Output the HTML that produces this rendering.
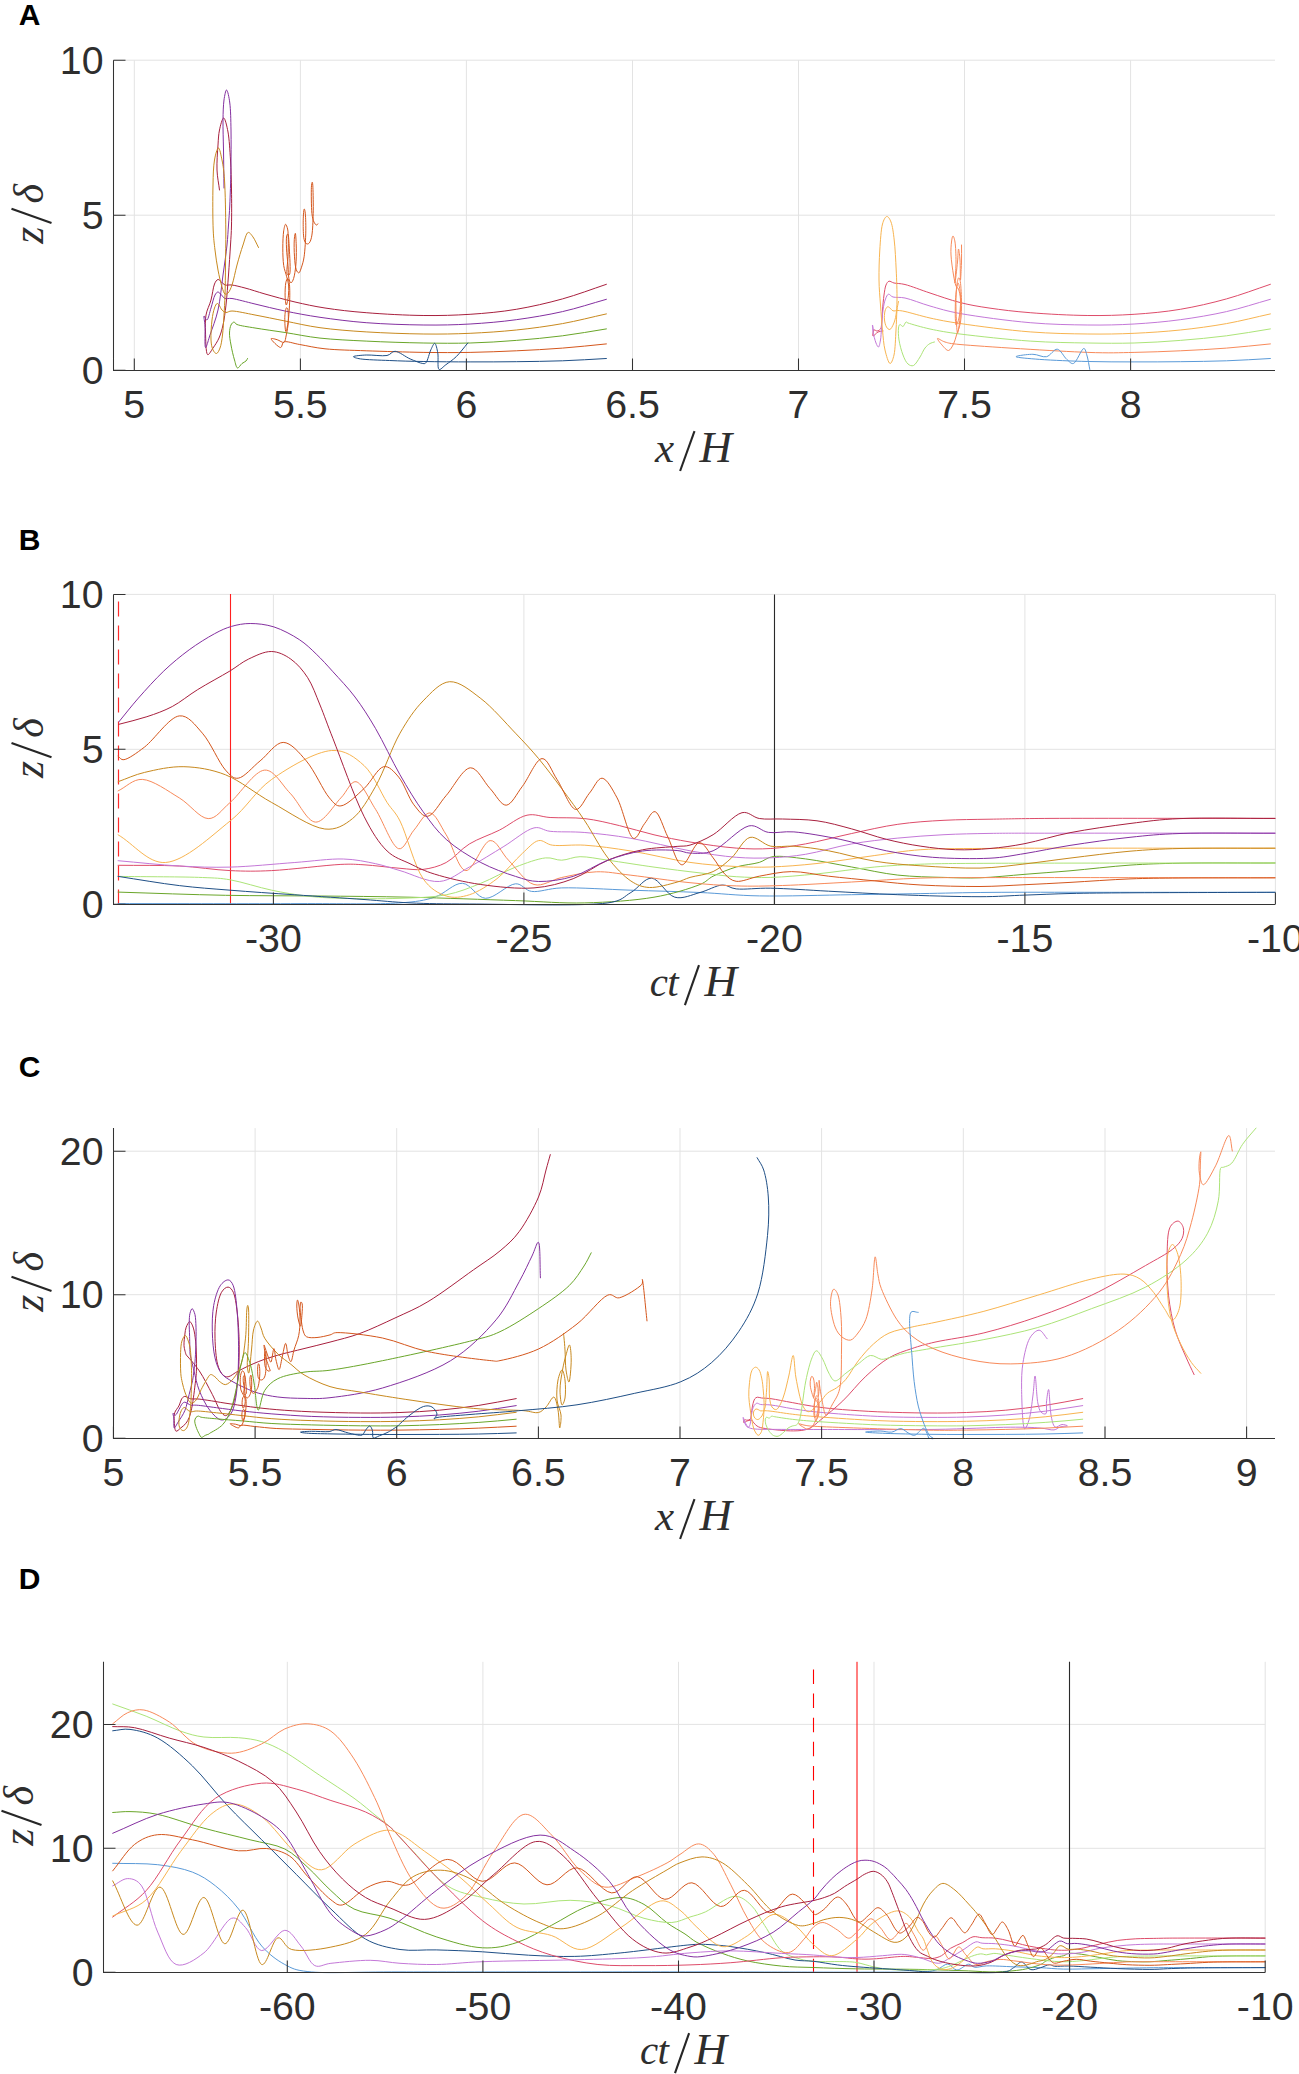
<!DOCTYPE html><html><head><meta charset="utf-8"><style>html,body{margin:0;padding:0;background:#fff;overflow:hidden;width:1299px;height:2074px;}svg{display:block}.t{font-family:"Liberation Sans",sans-serif;font-size:39.3px;fill:#2e2e2e}.pl{font-family:"Liberation Sans",sans-serif;font-weight:bold;font-size:30px;fill:#000}.m{font-family:"Liberation Serif",serif;font-style:italic;font-size:41px;fill:#2e2e2e}</style></head><body>
<svg width="1299" height="2074" viewBox="0 0 1299 2074">
<rect width="1299" height="2074" fill="#fff"/>
<path d="M134.3 60.2V370.5M300.4 60.2V370.5M466.4 60.2V370.5M632.5 60.2V370.5M798.5 60.2V370.5M964.5 60.2V370.5M1130.6 60.2V370.5M113.5 215.2H1275.0M113.5 60.2H1275.0" stroke="#e3e3e3" stroke-width="1.0" fill="none"/>
<path d="M606.4 284.3C591.8 289.2 577.5 294.7 562.5 298.9C547.4 303.1 531.7 306.7 516.3 309.3C500.9 311.9 485.5 313.3 470.1 314.3C454.7 315.3 440.6 315.7 423.9 315.5C406.1 315.3 383.3 314.1 366.2 312.7C350.7 311.5 337.3 309.9 325.0 308.0C313.8 306.3 305.0 304.3 295.0 302.0C285.0 299.7 273.7 296.4 265.0 294.0C257.3 291.8 250.8 289.5 245.0 288.0C240.0 286.7 235.5 285.5 232.0 285.0C229.1 284.6 226.8 285.6 225.0 285.0C223.4 284.5 222.7 282.9 221.5 282.0C220.3 281.1 219.1 279.3 218.0 279.5C216.8 279.7 215.5 281.5 214.5 284.0C213.1 287.4 212.4 294.8 211.0 300.0C209.6 305.1 206.9 309.7 206.0 315.0C205.1 320.4 205.3 325.7 205.5 332.0C205.7 338.8 205.8 353.0 207.5 354.5C208.8 355.7 211.2 350.6 213.0 348.0C215.0 345.2 217.4 341.7 219.0 338.0C220.7 334.1 221.9 330.1 223.0 325.0C224.3 319.3 225.1 312.7 226.0 305.0C227.0 296.3 227.7 285.0 228.5 275.0C229.2 265.0 230.0 253.7 230.5 245.0C231.0 237.3 231.3 233.1 231.5 225.0C231.7 215.4 231.7 201.1 231.5 190.0C231.3 179.4 231.1 169.8 230.5 160.0C229.9 150.4 229.3 139.3 228.0 132.0C226.9 126.0 225.1 118.2 223.7 118.0C222.3 117.9 220.4 125.6 219.5 130.0C218.5 134.6 218.4 139.0 218.0 145.0C217.5 152.0 216.7 162.3 217.0 170.0C217.3 177.2 218.7 183.3 219.5 190.0" stroke="#a8203e" stroke-width="1.00" fill="none" stroke-linejoin="round" stroke-linecap="round"/><path d="M606.4 299.3C591.8 303.4 577.4 308.2 562.5 311.6C547.4 315.0 531.7 317.6 516.3 319.7C500.9 321.8 485.5 323.1 470.1 324.0C454.7 324.9 440.6 325.2 423.9 325.0C406.1 324.8 384.0 324.1 366.2 322.7C349.5 321.4 334.0 319.3 320.0 317.3C307.1 315.4 296.0 313.3 285.0 311.0C274.4 308.8 264.1 306.2 255.0 304.0C246.6 302.0 237.1 299.3 232.0 298.5C228.4 298.0 226.8 299.2 225.0 298.5C223.4 297.9 222.7 296.1 221.5 295.0C220.3 293.9 219.1 292.0 218.0 292.0C216.9 292.0 216.0 293.2 215.0 295.0C213.6 297.6 212.3 303.8 211.0 308.0C209.7 312.1 208.3 319.3 207.0 320.0C206.0 320.5 204.4 315.5 204.0 316.0C203.5 316.6 204.8 321.6 205.0 326.0C205.3 331.5 204.5 346.8 205.5 347.5C206.4 348.1 208.2 340.3 210.0 335.0C212.2 328.4 215.9 319.4 218.0 310.0C220.3 299.7 221.5 286.1 223.0 275.0C224.5 264.4 226.1 253.7 227.0 245.0C227.8 237.3 228.0 231.7 228.5 225.0C229.0 218.3 229.4 213.1 229.8 205.0C230.2 195.4 230.7 182.2 230.9 170.0C231.1 157.3 231.2 141.6 231.0 130.0C230.8 119.7 230.7 110.0 229.8 103.0C229.1 97.3 227.6 90.2 226.6 90.0C225.7 89.8 224.6 95.7 224.0 100.0C223.3 105.2 223.1 112.3 223.0 120.0C222.9 128.7 223.3 139.1 223.5 150.0C223.7 161.7 223.8 175.3 224.0 188.0" stroke="#8430a0" stroke-width="1.00" fill="none" stroke-linejoin="round" stroke-linecap="round"/><path d="M606.4 313.9C591.8 317.1 577.4 320.9 562.5 323.6C547.4 326.3 531.7 328.4 516.3 330.0C500.9 331.6 485.5 332.6 470.1 333.3C454.7 334.0 440.6 334.2 423.9 334.0C406.1 333.8 384.0 333.0 366.2 331.9C349.5 330.9 334.0 329.6 320.0 327.7C307.1 325.9 296.1 323.2 285.0 321.0C274.4 318.9 264.1 316.7 255.0 315.0C246.6 313.4 236.9 311.1 232.0 311.0C228.7 310.9 227.7 312.7 226.0 312.5C224.4 312.3 223.1 311.2 222.0 310.0C220.8 308.7 219.9 306.1 219.0 305.0C218.3 304.2 217.7 303.2 217.0 303.5C216.2 303.8 215.3 305.8 214.5 308.0C213.5 310.8 212.6 315.2 212.0 320.0C211.3 325.6 210.7 334.8 211.0 340.0C211.2 344.3 211.9 347.7 213.0 350.0C213.9 351.8 215.4 353.7 216.5 353.5C217.7 353.3 219.1 350.6 220.0 348.0C221.2 344.8 221.9 340.1 222.5 335.0C223.2 329.3 223.6 321.7 224.0 315.0C224.4 308.3 224.8 302.7 225.0 295.0C225.3 286.3 225.4 275.6 225.5 265.0C225.6 253.9 225.9 243.2 225.8 230.0C225.7 215.3 225.3 192.2 224.5 180.0C223.9 170.7 223.1 165.6 222.0 160.0C221.0 155.2 219.7 148.0 218.5 148.0C217.2 148.0 215.4 154.7 214.5 160.0C213.4 166.4 213.2 174.7 213.0 185.0C212.7 197.2 212.7 218.6 213.2 230.0C213.6 238.9 214.2 243.3 215.0 250.0C215.8 256.7 216.8 263.7 218.0 270.0C219.1 276.0 220.7 282.8 222.0 287.0C223.0 290.2 223.8 293.2 225.0 294.0C225.9 294.6 227.0 294.0 228.0 293.0C229.4 291.6 230.7 288.8 232.0 285.0C233.7 280.2 235.2 271.7 237.0 265.0C238.8 258.3 241.1 250.6 243.0 245.0C244.7 240.0 246.1 233.3 248.0 232.5C249.5 231.8 251.4 234.8 253.0 237.0C254.9 239.6 256.7 244.0 258.5 247.5" stroke="#c8891e" stroke-width="1.00" fill="none" stroke-linejoin="round" stroke-linecap="round"/><path d="M606.4 328.9C591.8 331.2 577.4 333.9 562.5 335.8C547.4 337.7 531.7 339.2 516.3 340.4C500.9 341.6 485.5 342.6 470.1 343.0C454.7 343.4 440.6 343.3 423.9 343.0C406.1 342.7 384.0 342.0 366.2 341.1C349.5 340.3 334.0 339.6 320.0 338.1C307.1 336.7 296.1 334.2 285.0 332.5C274.4 330.9 263.4 329.4 255.0 328.0C247.8 326.8 240.3 325.8 237.0 324.5C234.9 323.7 235.0 321.9 234.0 322.0C233.0 322.1 231.7 323.5 231.0 325.0C230.1 326.9 229.6 329.9 229.5 333.0C229.4 336.5 230.2 340.7 231.0 345.0C231.8 349.6 233.3 356.0 234.5 360.0C235.5 363.4 236.2 367.6 237.5 368.0C238.7 368.4 240.5 364.7 242.0 363.5C243.4 362.4 245.1 361.9 246.0 361.0C246.8 360.2 247.0 359.3 247.5 358.5" stroke="#6aa62a" stroke-width="1.00" fill="none" stroke-linejoin="round" stroke-linecap="round"/><path d="M606.4 343.9C591.8 345.3 577.4 347.0 562.5 348.1C547.4 349.3 531.7 350.1 516.3 350.8C500.9 351.5 485.5 352.1 470.1 352.4C454.7 352.7 440.6 352.6 423.9 352.4C406.1 352.1 383.3 351.4 366.2 350.8C350.7 350.2 336.6 350.0 325.0 348.8C315.0 347.8 306.8 345.7 299.7 344.5C293.5 343.5 287.2 340.9 284.1 341.9C281.7 342.7 282.4 347.5 280.6 347.5C278.4 347.4 271.1 339.9 271.1 338.8C271.1 337.9 275.1 339.1 277.2 339.7C279.4 340.3 282.5 343.1 284.0 342.3C285.5 341.5 285.6 337.9 286.3 334.9C287.1 331.3 288.1 326.2 288.3 321.9C288.5 317.6 288.3 310.8 287.7 308.9C287.4 307.9 286.7 307.5 286.3 308.0C285.6 308.9 284.9 313.9 284.8 317.6C284.7 321.7 285.2 331.1 285.8 331.5C286.3 331.9 287.4 326.9 288.0 322.8C288.8 317.4 289.5 307.1 289.7 300.2C289.9 293.8 289.8 286.4 289.3 282.8C288.9 280.4 288.3 278.5 287.7 278.5C287.1 278.5 286.2 280.6 285.8 282.8C285.2 285.8 285.0 292.1 285.1 295.9C285.2 299.4 285.8 305.0 286.3 305.0C286.9 305.0 288.0 299.1 288.4 295.9C288.8 292.5 288.9 288.3 288.6 285.0C288.3 282.0 287.5 279.9 286.7 276.8C285.9 273.4 284.4 269.9 283.7 265.5C283.0 260.5 282.8 253.9 282.8 248.1C282.8 242.3 283.1 234.9 283.7 230.8C284.2 227.7 284.9 224.4 285.6 224.3C286.2 224.2 287.1 226.9 287.6 229.0C288.2 231.6 288.2 235.2 288.3 239.4C288.4 244.3 288.2 251.0 288.0 256.8C287.8 262.6 286.2 272.1 287.1 274.2C287.6 275.4 289.1 275.7 289.7 274.2C290.8 271.3 289.6 255.1 289.3 248.1C289.0 242.3 288.6 235.2 288.0 234.2C287.6 233.6 287.0 234.7 286.7 236.0C286.2 238.1 286.3 243.5 286.5 248.1C286.7 253.2 287.6 260.3 288.0 265.5C288.4 270.3 288.2 275.5 288.9 278.5C289.4 280.7 290.2 282.8 291.0 282.8C291.8 282.8 292.9 280.7 293.6 278.5C294.6 275.5 295.3 270.3 295.8 265.5C296.3 260.3 296.4 253.6 296.3 248.1C296.2 242.9 295.8 234.1 295.4 233.4C295.1 232.9 294.5 236.5 294.3 239.4C294.0 243.4 294.1 251.6 294.5 256.8C294.8 261.6 295.3 267.1 296.3 269.8C297.0 271.7 298.1 273.1 298.9 272.9C299.8 272.6 300.7 269.6 301.5 267.2C302.4 264.4 303.4 261.6 304.1 256.8C305.0 250.5 305.7 238.6 305.8 230.8C305.9 223.7 305.6 215.0 305.1 211.7C304.8 209.9 304.4 208.6 304.1 209.1C303.7 209.9 303.2 217.3 303.2 222.1C303.2 227.3 303.2 235.8 304.1 239.4C304.7 241.9 305.7 243.3 306.7 243.8C307.5 244.2 308.5 243.9 309.3 242.9C310.4 241.6 311.3 238.9 311.9 235.1C312.7 230.0 313.0 221.1 313.2 213.4C313.4 205.3 313.1 192.4 312.9 187.4C312.8 184.3 312.5 182.2 312.3 182.2C312.0 182.2 311.5 184.3 311.4 187.4C311.2 192.4 311.3 207.4 311.9 213.4C312.4 217.7 313.1 220.1 314.0 222.1C314.7 223.7 315.9 225.0 316.6 225.1C317.1 225.2 317.4 224.2 317.8 223.8" stroke="#d4561c" stroke-width="1.00" fill="none" stroke-linejoin="round" stroke-linecap="round"/><path d="M606.4 358.5C591.8 359.3 577.4 360.3 562.5 360.8C547.4 361.3 531.7 361.5 516.3 361.7C500.9 361.9 485.5 361.9 470.1 361.9C454.7 361.9 437.8 361.8 423.9 361.5C411.1 361.3 400.1 361.0 389.3 360.5C379.0 360.1 366.3 359.8 360.4 358.9C356.5 358.3 353.1 357.2 353.5 356.6C354.0 355.9 361.2 355.2 366.2 355.0C372.0 354.7 382.0 356.4 387.0 355.5C390.9 354.8 391.7 351.1 395.1 351.3C399.1 351.5 405.3 356.8 410.1 358.9C414.6 360.8 420.1 363.2 422.8 363.5C424.6 363.7 425.1 363.8 426.2 362.4C427.8 360.4 429.3 353.0 430.9 349.7C432.2 346.9 433.7 343.1 434.8 343.4C436.0 343.7 437.1 349.2 437.8 353.1C438.6 357.6 437.2 367.9 438.9 369.3C440.3 370.5 443.2 366.6 445.9 364.7C448.9 362.5 452.8 360.0 456.3 356.6C460.1 352.9 464.0 347.5 467.8 343.0" stroke="#1f4f86" stroke-width="1.00" fill="none" stroke-linejoin="round" stroke-linecap="round"/><path d="M1270.4 284.3C1255.8 289.2 1241.5 294.7 1226.5 298.9C1211.4 303.1 1195.7 306.7 1180.3 309.3C1164.9 311.9 1149.5 313.3 1134.1 314.3C1118.7 315.3 1104.6 315.7 1087.9 315.5C1070.1 315.3 1047.3 314.1 1030.2 312.7C1014.7 311.5 1001.1 309.8 989.0 308.0C978.0 306.4 969.7 305.0 960.0 302.5C950.1 300.0 939.4 296.1 930.0 293.0C921.1 290.1 911.3 286.1 905.0 284.5C900.1 283.3 896.8 283.6 894.0 283.0C891.8 282.5 890.3 280.8 889.0 281.2C887.7 281.6 886.8 283.1 886.0 285.0C885.0 287.4 884.6 291.1 884.0 295.0C883.4 299.3 882.9 305.0 882.5 310.0C882.1 315.0 881.9 321.8 881.5 325.0C881.2 327.2 881.3 328.0 880.5 329.0C879.7 330.0 878.1 330.9 877.0 331.0C876.0 331.1 874.7 329.4 874.0 330.0C873.2 330.7 872.4 335.6 873.0 336.0C873.7 336.4 876.3 332.8 878.0 332.0C879.6 331.2 881.3 331.3 883.0 331.0" stroke="#de4c6a" stroke-width="1.00" fill="none" stroke-linejoin="round" stroke-linecap="round"/><path d="M1270.4 299.3C1255.8 303.4 1241.4 308.2 1226.5 311.6C1211.4 315.0 1195.7 317.6 1180.3 319.7C1164.9 321.8 1149.5 323.1 1134.1 324.0C1118.7 324.9 1104.6 325.2 1087.9 325.0C1070.1 324.8 1050.8 324.5 1030.2 322.7C1008.3 320.8 977.5 316.6 960.0 313.5C946.4 311.0 939.4 308.7 930.0 306.0C921.1 303.5 911.5 299.4 905.0 298.0C899.9 296.9 895.8 297.8 893.0 297.0C890.8 296.4 889.7 293.9 888.5 294.2C887.2 294.5 886.4 296.8 885.5 299.0C884.4 301.7 883.6 305.6 883.0 310.0C882.3 315.0 881.9 322.8 881.5 328.0C881.1 332.6 881.1 336.7 880.5 340.0C880.0 342.8 879.3 346.7 878.5 347.0C877.8 347.2 876.8 345.0 876.0 343.0C875.0 340.4 873.6 335.1 873.0 332.0C872.5 329.3 872.4 325.1 872.5 325.0C872.6 324.9 873.2 328.3 873.5 330.0" stroke="#c478d8" stroke-width="1.00" fill="none" stroke-linejoin="round" stroke-linecap="round"/><path d="M1270.4 313.9C1255.8 317.1 1241.4 320.9 1226.5 323.6C1211.4 326.3 1195.7 328.4 1180.3 330.0C1164.9 331.6 1149.5 332.6 1134.1 333.3C1118.7 334.0 1104.6 334.2 1087.9 334.0C1070.1 333.8 1050.8 333.5 1030.2 331.9C1008.3 330.2 977.5 326.1 960.0 323.5C946.4 321.5 939.4 320.1 930.0 318.0C921.1 316.0 910.4 312.7 905.0 311.5C901.3 310.7 900.1 310.6 898.0 310.5C896.1 310.4 894.4 311.3 893.0 310.8C891.7 310.4 891.0 308.7 890.0 308.0C889.1 307.4 888.3 306.5 887.5 306.8C886.6 307.2 885.5 309.1 885.0 311.0C884.4 313.3 884.2 317.3 884.5 320.0C884.8 322.6 885.5 325.4 886.5 327.0C887.4 328.4 888.7 329.8 889.8 329.5C891.1 329.2 892.5 326.2 893.5 324.0C894.6 321.5 895.4 318.6 896.0 315.0C896.7 310.8 896.9 306.4 897.0 300.0C897.1 292.1 896.7 280.0 896.2 270.0C895.7 260.0 895.2 248.4 894.2 240.0C893.4 232.8 892.5 226.0 891.0 222.0C889.9 219.0 888.2 216.3 886.8 216.5C885.3 216.7 883.6 219.9 882.5 224.0C881.0 229.6 880.4 240.9 879.8 250.0C879.2 259.5 878.9 270.6 879.0 280.0C879.1 288.9 879.9 296.7 880.5 305.0C881.1 313.3 881.7 322.3 882.5 330.0C883.2 337.2 883.6 344.2 885.0 350.0C886.2 355.2 888.4 363.1 890.0 363.5C891.4 363.8 893.0 359.3 894.0 355.0C895.3 349.3 895.5 337.7 896.0 330.0C896.5 322.8 896.5 315.0 897.0 310.0C897.4 306.1 898.0 304.3 898.5 301.5" stroke="#f8b450" stroke-width="1.00" fill="none" stroke-linejoin="round" stroke-linecap="round"/><path d="M1270.4 328.9C1255.8 331.2 1241.4 333.9 1226.5 335.8C1211.4 337.7 1195.7 339.2 1180.3 340.4C1164.9 341.6 1149.5 342.6 1134.1 343.0C1118.7 343.4 1104.6 343.3 1087.9 343.0C1070.1 342.7 1050.8 342.5 1030.2 341.1C1008.3 339.6 977.5 336.2 960.0 334.0C946.4 332.3 939.0 330.9 930.0 329.0C921.8 327.2 911.3 324.1 908.0 323.0C906.3 322.4 906.7 321.7 906.0 322.0C905.1 322.4 904.1 326.2 903.0 326.5C902.1 326.8 900.7 324.3 900.0 324.5C899.2 324.7 898.7 326.1 898.5 328.0C898.2 330.6 898.3 335.7 899.0 340.0C899.7 344.6 901.4 350.9 903.0 355.0C904.4 358.7 906.0 362.3 908.0 364.0C909.6 365.4 911.7 366.3 913.5 365.5C915.7 364.5 918.1 359.9 920.0 357.0C921.9 354.1 923.2 350.3 925.0 348.0C926.6 346.0 928.3 344.5 930.0 343.5C931.5 342.6 933.0 342.5 934.5 342.0" stroke="#ace478" stroke-width="1.00" fill="none" stroke-linejoin="round" stroke-linecap="round"/><path d="M1270.4 343.9C1255.8 345.3 1241.4 347.0 1226.5 348.1C1211.4 349.3 1195.7 350.1 1180.3 350.8C1164.9 351.5 1149.5 352.1 1134.1 352.4C1118.7 352.7 1110.1 353.2 1087.9 352.4C1057.8 351.3 980.9 346.4 960.0 344.5C949.0 343.5 948.9 343.1 945.0 342.0C941.7 341.0 938.0 338.0 937.5 338.5C937.0 339.0 940.2 343.0 942.0 345.0C943.8 347.0 946.6 350.7 948.5 350.5C950.4 350.3 952.2 346.5 953.5 344.0C954.9 341.4 955.4 338.4 956.5 335.0C957.7 331.2 959.7 327.3 960.5 322.0C961.5 315.9 961.6 307.1 961.5 300.0C961.4 293.1 960.8 283.1 960.0 280.0C959.6 278.3 959.0 277.5 958.5 278.0C957.8 278.7 956.9 283.6 956.5 288.0C956.0 293.6 955.8 302.6 956.0 310.0C956.2 317.6 956.8 332.4 957.5 333.0C958.1 333.5 959.5 323.8 960.0 318.0C960.6 311.4 961.0 301.1 960.5 295.0C960.1 289.9 958.8 282.7 958.0 283.0C957.1 283.4 955.9 293.5 955.5 300.0C955.1 307.3 955.1 323.5 956.0 325.0C956.6 326.0 958.3 321.3 959.0 318.0C959.9 313.7 960.7 305.1 960.5 300.0C960.3 295.6 959.4 291.3 958.5 289.0C957.8 287.3 956.7 287.7 956.0 286.0C955.0 283.7 954.3 279.5 953.5 275.0C952.6 269.6 951.3 260.7 951.0 255.0C950.7 250.0 951.1 245.3 951.5 242.0C951.8 239.3 952.4 236.0 953.0 236.0C953.6 236.0 954.5 238.9 955.0 242.0C955.7 246.4 956.0 255.2 956.0 262.0C956.0 268.9 954.8 283.0 955.0 283.0C955.2 283.0 956.9 267.9 957.5 262.0C958.0 256.9 958.1 249.1 958.5 249.0C958.9 248.9 959.7 255.5 960.0 260.0C960.4 265.4 960.2 279.9 960.5 280.0C960.7 280.1 961.3 267.9 961.5 262.0C961.7 256.2 961.5 250.7 961.5 245.0" stroke="#f88a5a" stroke-width="1.00" fill="none" stroke-linejoin="round" stroke-linecap="round"/><path d="M1270.4 358.5C1255.8 359.3 1241.4 360.3 1226.5 360.8C1211.4 361.3 1195.7 361.5 1180.3 361.7C1164.9 361.9 1149.5 361.9 1134.1 361.9C1118.7 361.9 1103.5 361.9 1087.9 361.5C1072.1 361.1 1052.3 360.3 1039.7 359.4C1029.5 358.6 1016.5 357.6 1016.0 356.7C1015.6 355.9 1027.7 354.2 1032.9 354.3C1037.8 354.3 1042.4 357.6 1046.5 356.7C1050.5 355.8 1053.9 348.8 1057.3 349.2C1060.7 349.6 1063.9 357.0 1066.8 359.4C1069.3 361.4 1071.2 364.4 1073.6 363.4C1076.7 362.2 1081.4 348.9 1083.7 348.5C1085.5 348.2 1086.1 352.9 1087.1 356.0C1088.2 359.6 1088.9 365.0 1089.8 369.5" stroke="#5a9ad8" stroke-width="1.00" fill="none" stroke-linejoin="round" stroke-linecap="round"/>
<path d="M113.5 60.2V370.5H1275.0M134.3 370.5V358.5M300.4 370.5V358.5M466.4 370.5V358.5M632.5 370.5V358.5M798.5 370.5V358.5M964.5 370.5V358.5M1130.6 370.5V358.5M113.5 370.3H125.5M113.5 215.2H125.5M113.5 60.2H125.5" stroke="#333" stroke-width="1.05" fill="none"/>
<text class="t" x="134.3" y="417.6" text-anchor="middle">5</text>
<text class="t" x="300.4" y="417.6" text-anchor="middle">5.5</text>
<text class="t" x="466.4" y="417.6" text-anchor="middle">6</text>
<text class="t" x="632.5" y="417.6" text-anchor="middle">6.5</text>
<text class="t" x="798.5" y="417.6" text-anchor="middle">7</text>
<text class="t" x="964.5" y="417.6" text-anchor="middle">7.5</text>
<text class="t" x="1130.6" y="417.6" text-anchor="middle">8</text>
<text class="t" x="103.5" y="383.9" text-anchor="end">0</text>
<text class="t" x="103.5" y="228.8" text-anchor="end">5</text>
<text class="t" x="103.5" y="73.8" text-anchor="end">10</text>
<text class="pl" x="18.8" y="24.6">A</text>
<text class="m" style="font-size:43px" x="655.0" y="462.3">x</text><path d="M680.1 471.0L694.5 431.1" stroke="#262626" stroke-width="2.1" stroke-linecap="butt"/><text class="m" style="font-size:45px" x="699.4" y="462.3">H</text>
<g transform="translate(42.5 215.3) rotate(-90)"><text class="m" style="font-size:44px" x="-28.5" y="0">z</text><path d="M-7.8 9.0L6.5 -31.0" stroke="#262626" stroke-width="2.1" stroke-linecap="butt"/><text class="m" style="font-size:42px" x="11.7" y="0">δ</text></g>
<path d="M273.4 594.4V904.5M523.9 594.4V904.5M774.4 594.4V904.5M1024.9 594.4V904.5M1275.4 594.4V904.5M113.5 749.3H1275.0M113.5 594.4H1275.0" stroke="#e3e3e3" stroke-width="1.0" fill="none"/>
<path d="M118.5 601.5V904.3" stroke="#ff2a2a" stroke-width="1.2" stroke-dasharray="15 9" fill="none"/><path d="M230.5 594V904.3" stroke="#ff2020" stroke-width="1.1" fill="none"/><path d="M774.5 594.4V904.3" stroke="#2a2a2a" stroke-width="1.1" fill="none"/><path d="M118.1 903.6C178.7 903.6 250.7 903.8 300.0 903.6C341.2 903.5 376.8 904.5 400.0 902.9C416.9 901.7 424.0 900.6 434.6 897.2C444.8 893.9 453.8 882.9 462.4 883.3C470.7 883.7 477.0 897.9 485.5 898.3C494.5 898.7 507.4 884.3 515.5 883.8C522.2 883.4 524.8 890.5 531.6 891.4C539.6 892.5 548.2 888.3 561.7 887.9C579.0 887.4 607.8 889.4 630.9 890.2C653.9 891.0 678.2 891.5 700.0 892.5C720.9 893.4 736.2 895.5 759.3 895.9C785.7 896.4 823.8 895.1 851.7 894.7C877.2 894.3 897.8 894.0 920.9 893.6C943.9 893.2 962.8 892.6 990.0 892.4C1021.2 892.1 1056.8 892.3 1100.0 892.3C1149.7 892.3 1216.7 892.3 1275.0 892.3" stroke="#5a9ad8" stroke-width="1.00" fill="none" stroke-linejoin="round" stroke-linecap="round"/><path d="M118.1 892.1C153.9 893.2 191.5 894.7 225.5 895.3C257.9 895.9 287.0 895.7 317.8 896.0C348.5 896.3 377.8 896.5 410.0 897.2C443.6 898.0 485.1 899.6 515.5 900.6C542.3 901.5 561.7 903.5 584.8 902.9C607.9 902.3 634.1 900.6 654.0 897.2C671.8 894.2 690.0 888.5 700.0 884.5C707.1 881.6 707.7 878.9 713.1 876.2C719.4 873.1 728.4 869.3 736.2 867.0C743.8 864.7 752.9 864.3 759.3 862.4C764.9 860.7 766.7 857.4 773.1 856.6C781.1 855.6 793.3 857.4 805.5 858.9C819.1 860.6 836.3 864.3 851.7 867.0C867.1 869.7 882.4 873.4 897.8 875.1C913.2 876.8 929.9 877.0 944.0 877.4C957.1 877.8 967.0 878.3 980.0 877.8C993.9 877.3 1010.0 875.5 1025.0 874.3C1040.0 873.1 1053.4 872.2 1070.0 870.8C1088.1 869.2 1111.2 866.4 1130.0 865.1C1147.8 863.9 1159.1 863.6 1180.0 863.2C1205.4 862.7 1243.3 863.1 1275.0 863.0" stroke="#6aa62a" stroke-width="1.00" fill="none" stroke-linejoin="round" stroke-linecap="round"/><path d="M118.1 876.4C146.2 876.8 183.2 876.7 202.4 877.5C216.2 878.1 219.5 878.0 230.1 879.8C242.2 881.9 258.7 887.5 271.7 890.2C284.0 892.8 294.7 894.6 306.3 896.0C317.8 897.3 326.9 897.9 340.9 898.3C357.3 898.8 381.9 899.0 400.0 898.3C416.8 897.7 432.4 897.5 446.2 894.8C459.1 892.3 469.3 887.9 480.8 883.3C492.4 878.7 504.4 871.4 515.5 867.1C525.9 863.1 537.4 858.8 545.5 857.9C552.2 857.2 556.1 860.4 561.7 860.2C567.6 860.0 573.0 856.8 580.1 856.7C588.1 856.6 596.8 858.7 607.9 860.2C620.8 862.0 638.6 865.0 654.0 867.1C669.3 869.2 685.9 871.3 700.0 872.9C713.1 874.4 724.3 876.0 736.2 876.7C747.9 877.4 758.0 877.8 770.8 877.4C784.7 877.0 800.3 875.5 817.0 873.9C834.8 872.1 857.0 868.6 874.8 867.0C891.4 865.5 903.2 864.8 920.9 864.2C940.9 863.5 951.5 863.5 990.0 863.3C1048.9 863.0 1180.0 863.1 1275.0 863.0" stroke="#ace478" stroke-width="1.00" fill="none" stroke-linejoin="round" stroke-linecap="round"/><path d="M118.1 876.4C138.5 879.5 160.2 883.3 179.3 885.6C197.4 887.8 211.7 888.7 230.1 890.2C249.9 891.8 272.7 893.3 294.8 894.8C317.3 896.4 344.0 898.1 364.0 899.5C381.7 900.8 393.2 902.1 410.0 902.9C428.1 903.7 442.5 903.9 469.3 904.0C503.8 904.1 582.6 906.6 607.9 902.9C623.1 900.7 623.6 896.6 630.9 892.5C638.2 888.4 644.6 877.7 651.7 878.2C659.2 878.7 666.5 894.9 674.8 897.2C682.7 899.4 692.0 894.6 700.0 892.5C707.8 890.5 716.0 885.4 722.3 885.0C727.8 884.7 729.7 888.2 736.2 888.9C744.6 889.8 757.0 887.9 770.8 888.2C786.9 888.5 808.1 890.1 828.6 891.2C850.3 892.3 873.3 893.8 897.8 894.7C923.6 895.7 957.7 896.7 980.0 896.7C998.6 896.7 1010.0 895.6 1025.0 895.1C1040.0 894.6 1053.4 893.9 1070.0 893.5C1088.1 893.1 1102.6 893.0 1130.0 892.8C1165.7 892.6 1226.7 892.5 1275.0 892.3" stroke="#1f4f86" stroke-width="1.00" fill="none" stroke-linejoin="round" stroke-linecap="round"/><path d="M118.1 865.3C138.5 865.5 160.2 865.1 179.3 866.0C197.4 866.9 214.3 869.9 230.1 870.6C245.0 871.3 255.1 871.4 271.7 870.6C291.1 869.6 325.0 865.2 340.9 864.4C352.3 863.9 355.0 864.3 364.0 864.8C374.3 865.4 389.7 867.5 400.0 868.3C409.0 869.0 415.4 870.3 423.1 869.4C430.8 868.4 438.7 866.5 446.2 862.5C454.2 858.3 460.6 849.3 469.3 844.0C478.3 838.5 489.6 835.0 499.3 830.2C508.8 825.4 518.2 817.1 527.0 815.2C535.0 813.4 541.2 816.9 550.1 817.5C560.1 818.1 573.3 817.3 584.8 818.6C596.4 819.9 607.9 822.9 619.4 825.6C631.0 828.3 642.3 832.1 654.0 834.8C665.8 837.5 676.9 839.8 690.0 842.0C704.1 844.3 722.3 847.1 736.2 848.1C749.0 849.1 759.3 849.2 770.8 848.5C782.4 847.8 792.7 846.2 805.5 843.9C819.5 841.4 836.3 836.8 851.7 833.5C867.1 830.2 882.4 826.5 897.8 824.3C913.2 822.1 928.6 821.1 944.0 820.3C959.3 819.5 973.2 819.5 990.0 819.2C1008.2 818.9 1017.8 818.6 1050.0 818.4C1097.9 818.2 1200.0 818.4 1275.0 818.4" stroke="#de4c6a" stroke-width="1.00" fill="none" stroke-linejoin="round" stroke-linecap="round"/><path d="M118.1 860.7C138.5 862.5 160.2 864.9 179.3 866.0C197.4 867.0 211.7 867.6 230.1 867.1C249.9 866.6 275.3 863.9 294.8 862.5C312.7 861.2 329.3 858.6 343.3 859.0C355.7 859.3 365.9 861.7 375.6 863.7C384.6 865.6 390.4 867.9 400.0 870.6C411.1 873.7 427.5 882.4 439.3 881.5C450.4 880.7 458.9 872.7 469.3 867.1C480.3 861.1 492.9 853.1 503.9 846.4C514.4 840.0 525.8 829.8 534.0 827.9C540.5 826.4 543.0 830.5 550.1 831.3C559.0 832.3 572.0 831.4 584.8 832.5C598.7 833.7 614.2 835.4 630.9 838.3C649.0 841.4 671.9 847.6 690.0 850.8C706.8 853.8 722.3 856.2 736.2 857.3C748.9 858.3 759.3 858.3 770.8 857.8C782.4 857.3 792.7 856.4 805.5 854.3C819.5 852.0 836.3 846.6 851.7 843.9C867.0 841.2 882.4 839.6 897.8 838.1C913.2 836.6 928.6 835.5 944.0 834.7C959.4 833.9 973.2 833.7 990.0 833.4C1008.2 833.1 1017.8 833.2 1050.0 833.2C1097.9 833.1 1200.0 833.2 1275.0 833.2" stroke="#c478d8" stroke-width="1.00" fill="none" stroke-linejoin="round" stroke-linecap="round"/><path d="M118.1 834.8C133.9 844.0 147.9 863.6 165.4 862.5C184.8 861.3 211.9 835.5 230.1 821.0C246.9 807.7 255.2 791.0 271.7 779.4C288.8 767.3 315.5 751.6 331.7 750.5C345.1 749.6 354.9 757.3 364.0 765.5C373.6 774.2 380.8 792.8 387.1 802.5C392.3 810.4 395.1 811.4 400.0 821.0C406.6 834.0 414.3 866.1 423.1 878.7C430.1 888.7 438.2 893.4 446.2 896.0C453.7 898.4 461.3 897.3 469.3 894.8C478.1 892.0 488.3 885.4 497.0 878.7C506.0 871.7 515.1 859.9 522.4 853.3C528.6 847.7 533.4 841.7 538.6 840.6C543.3 839.6 546.1 844.3 552.4 845.2C560.4 846.3 572.6 844.4 584.8 845.2C598.4 846.1 614.2 848.3 630.9 851.0C649.0 853.9 671.9 859.8 690.0 862.4C706.8 864.8 722.3 865.8 736.2 866.5C749.0 867.2 758.0 867.4 770.8 867.0C784.7 866.5 800.4 865.3 817.0 863.5C834.8 861.6 857.0 857.9 874.8 855.5C891.4 853.3 903.1 850.9 920.9 849.7C940.9 848.3 968.1 848.6 990.0 848.4C1011.0 848.2 1017.8 848.2 1050.0 848.2C1097.9 848.1 1200.0 848.2 1275.0 848.2" stroke="#f8b450" stroke-width="1.00" fill="none" stroke-linejoin="round" stroke-linecap="round"/><path d="M118.1 790.9C126.2 787.1 132.9 778.9 142.3 779.4C153.0 780.0 168.1 791.2 179.3 797.9C190.0 804.3 199.5 818.3 208.2 818.6C216.3 818.9 221.7 809.6 230.1 802.5C240.1 794.1 254.3 770.8 264.7 770.1C274.1 769.5 281.8 784.7 290.1 793.2C298.7 802.0 306.9 821.6 315.5 822.1C323.9 822.6 333.9 805.0 340.9 797.9C347.0 791.7 350.6 780.8 356.0 781.7C362.1 782.8 368.8 798.8 375.6 809.4C383.0 820.9 391.9 846.9 398.7 848.7C404.3 850.2 408.7 836.2 413.9 830.2C419.1 824.2 424.7 812.4 430.0 812.9C435.5 813.4 440.6 826.0 446.2 834.8C452.5 844.8 458.4 869.8 465.8 870.6C473.1 871.4 482.7 841.5 490.1 840.6C496.8 839.8 501.5 853.2 508.5 860.2C516.0 867.8 524.8 881.9 534.0 884.5C542.6 887.0 551.7 879.6 561.7 877.5C572.3 875.3 584.8 872.2 596.3 871.8C607.8 871.4 617.0 873.6 630.9 875.2C647.3 877.1 671.9 880.9 690.0 882.7C706.8 884.4 720.8 885.4 736.2 885.9C751.6 886.4 764.6 886.1 782.4 885.5C802.5 884.9 828.6 883.2 851.7 882.0C874.8 880.8 897.8 878.8 920.9 878.1C943.9 877.4 951.5 877.7 990.0 877.6C1048.9 877.5 1180.0 877.7 1275.0 877.8" stroke="#f88a5a" stroke-width="1.00" fill="none" stroke-linejoin="round" stroke-linecap="round"/><path d="M118.1 781.7C126.9 778.6 134.4 774.8 144.6 772.4C156.0 769.7 170.6 766.3 183.9 766.7C197.5 767.1 211.4 769.3 225.5 774.8C240.6 780.8 255.4 793.6 271.7 802.5C288.5 811.7 310.6 827.4 324.8 829.0C336.3 830.3 344.3 825.1 352.5 818.6C361.4 811.5 368.1 799.4 375.6 786.3C384.0 771.6 391.6 747.9 400.0 733.2C407.5 720.1 414.5 709.6 423.1 700.9C431.2 692.7 440.2 682.2 449.7 681.7C459.4 681.2 470.4 690.6 480.8 698.5C492.3 707.2 505.5 722.8 515.5 733.2C524.5 742.6 531.0 749.5 538.6 758.6C546.4 768.0 554.1 778.3 561.7 788.6C569.5 799.1 577.2 809.5 584.8 820.9C592.6 832.6 599.9 847.6 607.9 857.9C615.3 867.3 623.5 876.1 630.9 881.0C637.3 885.2 642.2 887.1 649.4 887.5C657.4 887.9 670.0 884.0 677.1 882.1C682.8 880.6 684.7 879.0 690.0 877.4C696.3 875.5 706.1 874.9 713.1 871.6C720.0 868.3 725.6 863.3 731.6 857.8C737.9 852.0 743.2 839.1 750.0 837.4C756.4 835.8 763.5 844.7 770.8 846.2C778.1 847.7 785.0 845.6 793.9 846.2C804.0 846.9 815.8 848.5 828.6 850.8C842.6 853.3 859.4 858.7 874.8 861.2C890.1 863.7 904.1 864.7 920.9 865.8C939.0 867.0 962.1 868.5 980.0 868.1C996.5 867.7 1010.0 865.6 1025.0 863.9C1040.0 862.2 1053.4 860.1 1070.0 858.1C1088.1 855.9 1111.2 852.8 1130.0 851.2C1147.8 849.7 1159.1 849.0 1180.0 848.5C1205.4 847.9 1243.3 848.3 1275.0 848.2" stroke="#c8891e" stroke-width="1.00" fill="none" stroke-linejoin="round" stroke-linecap="round"/><path d="M118.1 756.3C120.0 757.4 120.8 760.2 123.9 759.7C128.4 759.0 136.5 753.2 144.6 747.0C154.4 739.5 169.2 717.1 179.3 715.9C188.1 714.8 195.1 725.0 202.4 733.2C210.6 742.4 218.9 762.8 225.5 770.1C230.3 775.4 233.1 778.9 238.2 778.2C244.3 777.4 252.7 766.8 260.1 760.9C267.7 754.9 275.5 742.4 283.2 742.4C290.9 742.4 299.0 752.5 306.3 760.9C314.5 770.4 323.1 790.6 329.4 797.9C333.9 803.1 336.0 806.5 340.9 805.9C347.0 805.2 356.9 795.1 364.0 788.6C371.2 782.1 377.6 767.9 383.7 766.7C389.0 765.6 394.0 771.6 398.7 777.1C404.2 783.5 408.6 798.1 413.9 804.8C418.4 810.4 422.7 817.1 427.7 816.3C433.4 815.4 439.4 803.2 446.2 795.5C453.6 787.1 462.8 768.4 470.4 767.8C477.4 767.3 484.0 782.2 490.1 788.6C495.8 794.6 500.9 805.4 506.2 805.2C511.6 804.9 516.7 793.6 522.4 786.3C528.6 778.3 536.0 759.1 542.0 758.6C547.5 758.1 551.7 771.4 557.0 779.4C562.8 788.2 569.8 808.1 575.5 809.4C580.4 810.5 584.9 798.5 589.4 793.2C593.8 788.1 597.7 777.8 602.1 778.2C606.9 778.6 612.3 789.1 617.1 797.9C622.8 808.3 628.2 836.0 633.3 838.3C637.3 840.1 641.0 827.8 644.8 823.3C648.3 819.0 651.7 810.6 655.2 811.7C659.4 813.0 663.5 828.4 667.9 837.1C672.4 846.1 676.5 864.1 681.8 864.8C687.0 865.5 693.8 843.3 699.2 842.7C704.1 842.1 708.8 852.6 713.1 857.8C717.3 863.0 720.5 869.9 724.6 873.9C728.3 877.5 731.1 880.6 736.2 881.3C742.2 882.1 750.6 877.8 759.3 876.2C768.9 874.5 780.3 871.7 791.6 871.6C803.4 871.5 815.3 874.7 828.6 876.2C842.8 877.8 859.4 879.4 874.8 880.9C890.2 882.4 904.1 884.1 920.9 885.0C939.0 886.0 962.1 886.6 980.0 886.5C996.5 886.4 1010.0 885.4 1025.0 884.7C1040.0 884.0 1053.4 883.3 1070.0 882.4C1088.1 881.4 1111.2 879.6 1130.0 878.9C1147.8 878.2 1159.1 878.2 1180.0 878.0C1205.4 877.8 1243.3 877.9 1275.0 877.8" stroke="#d4561c" stroke-width="1.00" fill="none" stroke-linejoin="round" stroke-linecap="round"/><path d="M118.9 724.3C128.2 721.8 137.9 719.7 146.9 716.7C155.7 713.8 164.0 710.9 172.3 706.5C180.9 701.9 188.4 695.3 197.7 689.6C207.5 683.5 221.0 676.4 229.9 671.0C237.5 666.4 241.7 662.3 248.5 659.1C255.5 655.8 264.1 651.4 271.3 651.5C278.2 651.6 284.9 654.9 290.8 659.1C297.1 663.5 302.9 670.3 307.7 677.7C312.7 685.5 315.9 695.2 320.0 705.0C324.3 715.4 327.0 723.6 333.0 738.7C340.7 758.1 354.1 796.8 364.0 816.3C372.0 832.1 378.8 843.0 387.1 851.0C394.3 857.9 402.1 859.9 410.0 863.7C417.9 867.6 424.2 870.9 434.6 874.1C446.9 877.9 464.6 882.2 480.8 884.5C497.6 886.9 518.1 889.1 534.0 887.9C548.6 886.8 560.8 883.3 573.2 878.7C585.5 874.1 596.2 865.0 607.9 860.2C619.3 855.5 630.9 852.1 642.5 849.8C654.0 847.5 668.9 847.2 677.1 846.4C683.2 845.8 684.8 846.6 690.0 845.1C696.4 843.2 705.0 839.6 713.1 834.7C722.2 829.2 733.8 814.7 742.0 812.7C748.7 811.1 752.9 817.4 759.3 818.5C766.2 819.7 773.5 818.7 782.4 819.0C792.4 819.4 805.5 819.2 817.0 820.8C828.6 822.4 840.2 825.8 851.7 828.9C863.3 832.0 874.7 836.4 886.3 839.3C897.8 842.2 909.3 844.5 920.9 846.2C932.4 847.9 944.1 849.3 955.6 849.7C967.1 850.1 978.5 849.5 990.0 848.5C1001.6 847.5 1012.3 846.1 1025.0 843.6C1038.8 840.9 1053.4 835.9 1070.0 832.7C1088.1 829.2 1111.2 825.9 1130.0 823.5C1147.8 821.3 1159.0 819.5 1180.0 818.6C1205.4 817.5 1243.3 818.5 1275.0 818.4" stroke="#a8203e" stroke-width="1.00" fill="none" stroke-linejoin="round" stroke-linecap="round"/><path d="M118.9 721.8C125.4 713.9 131.2 706.3 138.4 698.1C146.1 689.4 155.2 679.2 163.8 671.0C172.1 663.1 180.6 656.1 189.2 649.8C197.5 643.7 207.2 637.7 214.6 633.7C221.0 630.2 225.6 628.1 231.5 626.4C237.5 624.7 243.4 623.5 250.2 623.5C257.5 623.5 265.9 624.4 273.9 626.9C282.3 629.6 292.1 634.9 299.3 639.6C306.0 644.0 310.7 648.7 316.2 654.0C321.9 659.4 326.9 665.0 333.0 671.8C339.7 679.2 348.0 687.7 355.0 697.0C362.2 706.6 368.5 716.4 375.6 728.6C383.4 742.0 391.9 760.6 400.0 774.8C407.7 788.2 415.2 800.7 423.1 811.7C430.6 822.1 436.9 831.1 446.2 839.4C455.9 848.1 469.1 856.3 480.8 862.5C492.2 868.5 505.4 873.2 515.5 876.4C524.3 879.2 529.7 881.3 538.6 881.5C548.6 881.7 561.8 879.9 573.2 876.4C584.9 872.9 596.2 864.5 607.9 860.2C619.3 856.0 630.9 852.6 642.5 851.0C654.0 849.4 668.9 849.9 677.1 850.5C683.3 850.9 684.7 852.9 690.0 853.1C696.3 853.3 704.4 854.3 713.1 850.8C723.6 846.5 739.1 828.1 748.9 825.9C756.8 824.2 761.3 831.4 768.5 832.4C776.2 833.5 783.5 831.1 793.9 831.9C806.4 832.9 824.7 836.2 840.1 839.3C855.5 842.5 870.9 847.8 886.3 850.8C901.7 853.8 915.8 856.0 932.5 857.3C950.2 858.6 973.9 859.0 990.0 858.2C1003.9 857.5 1012.3 855.5 1025.0 853.5C1038.8 851.3 1053.4 848.0 1070.0 845.4C1088.1 842.6 1111.2 839.3 1130.0 837.3C1147.8 835.4 1159.0 834.2 1180.0 833.5C1205.4 832.6 1243.3 833.3 1275.0 833.2" stroke="#8430a0" stroke-width="1.00" fill="none" stroke-linejoin="round" stroke-linecap="round"/>
<path d="M113.5 594.4V904.5H1275.0M273.4 904.5V892.5M523.9 904.5V892.5M774.4 904.5V892.5M1024.9 904.5V892.5M1275.4 904.5V892.5M113.5 904.3H125.5M113.5 749.3H125.5M113.5 594.4H125.5" stroke="#333" stroke-width="1.05" fill="none"/>
<text class="t" x="273.4" y="951.6" text-anchor="middle">-30</text>
<text class="t" x="523.9" y="951.6" text-anchor="middle">-25</text>
<text class="t" x="774.4" y="951.6" text-anchor="middle">-20</text>
<text class="t" x="1024.9" y="951.6" text-anchor="middle">-15</text>
<text class="t" x="1275.4" y="951.6" text-anchor="middle">-10</text>
<text class="t" x="103.5" y="917.9" text-anchor="end">0</text>
<text class="t" x="103.5" y="762.9" text-anchor="end">5</text>
<text class="t" x="103.5" y="608.0" text-anchor="end">10</text>
<text class="pl" x="18.8" y="549.9">B</text>
<text class="m" x="649.8" y="996.3">c</text><text class="m" x="667.2" y="996.3">t</text><path d="M684.9 1005.1L699.0 965.2" stroke="#262626" stroke-width="2.1" stroke-linecap="butt"/><text class="m" style="font-size:45px" x="704.4" y="996.3">H</text>
<g transform="translate(42.5 749.5) rotate(-90)"><text class="m" style="font-size:44px" x="-28.5" y="0">z</text><path d="M-7.8 9.0L6.5 -31.0" stroke="#262626" stroke-width="2.1" stroke-linecap="butt"/><text class="m" style="font-size:42px" x="11.7" y="0">δ</text></g>
<path d="M255.1 1128.1V1438.5M396.7 1128.1V1438.5M538.4 1128.1V1438.5M680.0 1128.1V1438.5M821.6 1128.1V1438.5M963.3 1128.1V1438.5M1105.0 1128.1V1438.5M1246.6 1128.1V1438.5M113.5 1294.7H1275.0M113.5 1151.2H1275.0" stroke="#e3e3e3" stroke-width="1.0" fill="none"/>
<path d="M516.2 1398.6C503.7 1400.9 491.5 1403.4 478.8 1405.4C465.9 1407.3 452.5 1409.0 439.4 1410.2C426.2 1411.4 413.1 1412.0 400.0 1412.5C386.8 1413.0 374.8 1413.1 360.5 1413.0C345.4 1412.9 325.9 1412.4 311.3 1411.8C298.1 1411.2 286.7 1410.5 276.2 1409.6C266.6 1408.8 259.1 1407.9 250.6 1406.8C242.1 1405.7 232.4 1404.2 225.0 1403.1C218.4 1402.1 212.8 1401.0 207.9 1400.3C203.6 1399.7 199.8 1399.1 196.8 1398.9C194.4 1398.8 192.4 1399.2 190.9 1398.9C189.6 1398.7 188.9 1398.0 187.9 1397.5C186.9 1397.1 185.9 1396.3 184.9 1396.4C183.9 1396.5 182.8 1397.2 181.9 1398.5C180.8 1400.1 180.1 1403.5 178.9 1405.9C177.7 1408.3 175.4 1410.3 174.7 1412.8C173.9 1415.3 174.1 1417.8 174.2 1420.7C174.4 1423.8 174.6 1430.2 175.9 1431.1C177.0 1431.8 179.1 1429.3 180.6 1428.1C182.3 1426.8 184.3 1425.2 185.8 1423.5C187.2 1421.7 188.2 1419.8 189.2 1417.4C190.2 1414.8 191.0 1411.8 191.7 1408.2C192.6 1404.2 193.2 1398.9 193.9 1394.3C194.5 1389.7 195.1 1384.4 195.6 1380.4C196.0 1376.9 196.3 1374.9 196.4 1371.2C196.6 1366.7 196.6 1360.1 196.4 1355.0C196.3 1350.1 196.1 1345.6 195.6 1341.1C195.1 1336.7 194.5 1331.5 193.4 1328.1C192.5 1325.3 191.0 1321.7 189.8 1321.7C188.6 1321.6 187.0 1325.2 186.2 1327.2C185.4 1329.3 185.2 1331.4 184.9 1334.1C184.5 1337.4 183.8 1342.2 184.0 1345.7C184.3 1349.1 185.9 1354.3 186.2 1355.0C186.3 1355.2 186.1 1354.8 186.3 1355.0C187.2 1356.0 195.1 1364.7 199.3 1370.9C203.8 1377.6 208.5 1387.2 212.3 1394.4C215.8 1401.1 218.8 1409.6 221.5 1412.8C223.4 1415.0 225.0 1416.2 226.7 1415.4C228.9 1414.3 231.5 1409.0 233.3 1403.6C235.5 1397.0 236.9 1386.9 237.9 1377.4C239.0 1367.3 239.3 1355.6 239.2 1344.7C239.1 1333.8 238.3 1321.1 237.2 1312.0C236.2 1304.1 235.2 1296.4 233.3 1292.3C231.9 1289.2 230.0 1287.2 228.1 1287.1C226.1 1287.0 223.3 1289.1 221.5 1292.3C219.1 1296.4 217.4 1304.7 216.3 1312.0C215.1 1319.9 214.8 1329.5 215.0 1338.2C215.2 1346.9 216.0 1358.0 217.6 1364.3C218.9 1369.3 220.8 1372.8 222.8 1374.8C224.4 1376.4 225.9 1377.1 228.1 1376.8C230.9 1376.4 234.1 1373.1 238.5 1370.9C243.7 1368.2 251.6 1364.3 258.2 1361.7C264.7 1359.1 270.5 1357.3 277.8 1355.2C285.7 1352.9 295.3 1350.8 304.0 1348.6C312.7 1346.4 320.9 1344.5 330.0 1342.1C339.5 1339.5 349.4 1337.3 359.8 1333.5C370.9 1329.4 383.6 1323.3 395.0 1318.0C406.3 1312.7 415.8 1309.0 427.9 1301.7C441.6 1293.5 460.8 1278.8 473.4 1269.9C484.1 1262.3 492.2 1257.5 500.0 1250.9C507.4 1244.7 513.1 1239.9 519.2 1231.6C526.0 1222.4 534.0 1207.7 538.5 1197.0C542.6 1187.3 543.9 1177.4 546.0 1170.0C547.7 1163.7 548.9 1159.7 550.3 1154.6" stroke="#a8203e" stroke-width="1.00" fill="none" stroke-linejoin="round" stroke-linecap="round"/><path d="M516.2 1405.6C503.7 1407.4 491.5 1409.7 478.8 1411.2C465.9 1412.8 452.5 1414.0 439.4 1415.0C426.2 1415.9 413.1 1416.6 400.0 1417.0C386.8 1417.4 374.8 1417.5 360.5 1417.4C345.4 1417.4 326.5 1417.0 311.3 1416.4C297.1 1415.8 283.8 1414.8 271.9 1413.9C260.9 1413.0 251.5 1412.0 242.1 1411.0C233.0 1410.0 224.2 1408.7 216.5 1407.7C209.3 1406.8 201.2 1405.5 196.8 1405.2C193.8 1404.9 192.4 1405.5 190.9 1405.2C189.6 1404.9 188.9 1404.1 187.9 1403.6C186.9 1403.1 185.8 1402.2 184.9 1402.2C184.0 1402.2 183.2 1402.6 182.3 1403.6C181.2 1404.8 180.1 1407.6 178.9 1409.6C177.8 1411.5 176.6 1414.7 175.5 1415.1C174.6 1415.5 173.3 1413.0 173.0 1413.3C172.6 1413.6 173.6 1415.9 173.8 1417.9C174.1 1420.5 173.4 1427.4 174.2 1427.9C175.0 1428.2 176.5 1424.6 178.1 1422.1C180.0 1419.0 183.1 1414.9 184.9 1410.5C186.8 1405.8 187.9 1399.4 189.2 1394.3C190.4 1389.4 191.8 1384.5 192.6 1380.4C193.3 1376.9 193.5 1374.3 193.9 1371.2C194.3 1368.1 194.6 1365.7 195.0 1361.9C195.3 1357.5 195.7 1351.4 195.9 1345.7C196.1 1339.8 196.2 1332.6 196.0 1327.2C195.8 1322.4 195.7 1317.9 195.0 1314.7C194.3 1312.1 193.1 1308.8 192.2 1308.7C191.4 1308.6 190.5 1311.3 190.0 1313.3C189.4 1315.7 189.3 1319.0 189.2 1322.6C189.1 1326.6 189.5 1331.4 189.6 1336.5C189.7 1341.9 190.0 1353.3 190.0 1354.0C190.0 1354.2 190.0 1353.9 190.0 1354.0C190.2 1354.8 192.5 1365.0 194.0 1370.9C195.6 1377.1 196.7 1384.1 199.3 1390.5C201.9 1397.1 205.7 1405.1 209.7 1410.1C213.2 1414.6 217.8 1419.6 221.5 1420.0C224.8 1420.4 228.4 1417.4 230.7 1414.1C233.4 1410.2 234.6 1404.7 235.9 1397.0C237.5 1387.2 238.3 1371.6 238.5 1357.8C238.8 1343.3 238.2 1324.6 237.2 1312.0C236.3 1301.3 235.3 1291.1 233.3 1285.8C231.9 1282.2 230.2 1280.0 228.1 1279.9C225.9 1279.8 222.4 1282.4 220.2 1285.8C217.4 1290.1 215.0 1298.1 213.7 1305.4C212.3 1313.2 212.1 1322.9 212.3 1331.6C212.5 1340.3 213.3 1350.5 215.0 1357.8C216.5 1364.2 218.5 1369.5 221.5 1373.5C224.3 1377.2 228.1 1378.9 232.0 1381.3C236.0 1383.7 240.7 1385.9 245.1 1387.9C249.4 1389.9 253.1 1391.6 258.2 1393.1C263.8 1394.7 270.5 1396.1 277.8 1397.0C285.7 1398.0 295.3 1398.3 304.0 1398.4C312.7 1398.5 318.9 1399.0 330.0 1397.7C343.8 1396.1 363.5 1393.6 382.5 1388.0C403.4 1381.8 431.3 1372.5 450.6 1360.7C468.8 1349.5 484.4 1333.6 496.1 1319.8C506.7 1307.2 513.0 1292.8 519.2 1281.7C524.6 1271.9 528.6 1262.9 532.0 1256.0C534.8 1250.3 537.1 1241.0 538.5 1242.4C540.4 1244.2 539.8 1266.0 540.4 1277.8" stroke="#8430a0" stroke-width="1.00" fill="none" stroke-linejoin="round" stroke-linecap="round"/><path d="M516.2 1412.3C503.7 1413.8 491.5 1415.6 478.8 1416.8C465.9 1418.1 452.5 1419.0 439.4 1419.8C426.2 1420.5 413.1 1421.0 400.0 1421.3C386.8 1421.6 374.8 1421.7 360.5 1421.6C345.4 1421.5 326.5 1421.2 311.3 1420.6C297.1 1420.2 283.8 1419.6 271.9 1418.7C260.9 1417.9 251.5 1416.6 242.1 1415.6C233.1 1414.6 224.2 1413.6 216.5 1412.8C209.3 1412.1 201.0 1411.0 196.8 1411.0C194.1 1410.9 193.2 1411.8 191.7 1411.7C190.4 1411.6 189.3 1411.1 188.3 1410.5C187.3 1409.9 186.5 1408.7 185.8 1408.2C185.1 1407.8 184.6 1407.3 184.0 1407.5C183.4 1407.7 182.6 1408.5 181.9 1409.6C181.1 1410.9 180.3 1412.9 179.8 1415.1C179.2 1417.7 178.7 1422.0 178.9 1424.4C179.1 1426.4 179.8 1428.0 180.6 1429.0C181.4 1429.9 182.6 1430.8 183.6 1430.6C184.6 1430.5 185.8 1429.3 186.6 1428.1C187.6 1426.6 188.2 1424.4 188.7 1422.1C189.4 1419.4 189.7 1415.9 190.0 1412.8C190.4 1409.7 190.7 1407.1 190.9 1403.6C191.1 1399.5 191.2 1394.6 191.3 1389.7C191.4 1384.6 191.7 1379.6 191.6 1373.5C191.4 1366.7 191.1 1356.0 190.4 1350.3C189.9 1346.0 189.2 1343.6 188.3 1341.1C187.5 1338.8 186.4 1335.6 185.3 1335.5C184.3 1335.5 182.7 1338.6 181.9 1341.1C181.0 1344.0 180.8 1347.9 180.6 1352.7C180.4 1358.3 180.4 1368.2 180.8 1373.5C181.1 1377.6 181.7 1379.7 182.3 1382.7C183.0 1385.8 183.9 1389.1 184.9 1392.0C185.9 1394.8 187.2 1397.9 188.3 1399.9C189.2 1401.4 190.0 1402.7 190.9 1403.1C191.7 1403.5 192.5 1403.2 193.4 1402.6C194.5 1402.0 195.7 1400.7 196.8 1398.9C198.3 1396.7 199.6 1392.7 201.1 1389.7C202.7 1386.6 204.6 1383.0 206.2 1380.4C207.7 1378.1 209.0 1375.1 210.5 1374.6C211.8 1374.2 213.3 1375.7 214.8 1376.7C216.3 1377.9 219.1 1381.3 219.5 1381.6C219.6 1381.7 219.4 1381.5 219.5 1381.5C220.0 1381.7 223.3 1384.9 225.4 1384.6C227.8 1384.3 230.9 1381.7 233.3 1378.7C236.2 1375.3 239.1 1370.4 241.1 1364.3C243.4 1357.3 244.5 1347.2 245.5 1338.2C246.5 1329.1 246.3 1315.1 246.8 1310.0C247.1 1307.0 247.4 1305.4 247.7 1305.4C248.0 1305.4 248.4 1306.9 248.6 1310.0C248.9 1315.3 248.7 1330.6 248.5 1340.0C248.3 1348.9 247.1 1359.3 247.3 1365.0C247.5 1369.0 248.2 1373.8 248.8 1373.0C249.6 1371.9 250.7 1357.3 251.5 1350.0C252.3 1343.0 252.3 1335.0 253.5 1330.0C254.5 1326.0 256.2 1321.3 257.5 1321.1C258.7 1321.0 259.9 1325.3 261.0 1328.0C262.3 1331.0 262.4 1334.4 264.7 1338.2C267.5 1342.8 273.3 1349.5 277.8 1353.9C282.0 1358.1 286.5 1360.8 290.9 1364.3C295.3 1367.8 298.2 1371.4 304.0 1374.8C310.8 1378.8 320.8 1383.7 330.0 1386.6C339.4 1389.5 348.4 1390.0 360.0 1392.0C373.1 1394.2 387.8 1396.7 405.2 1399.3C424.9 1402.2 453.0 1406.5 473.4 1408.4C491.9 1410.1 512.0 1409.8 523.1 1410.6C530.9 1411.2 534.5 1413.4 538.5 1412.5C541.9 1411.7 543.7 1409.2 546.2 1406.8C548.9 1404.2 551.9 1396.7 553.9 1397.1C555.9 1397.5 557.0 1405.1 558.0 1410.0C559.0 1415.3 559.2 1427.6 559.7 1427.9C560.2 1428.2 561.4 1419.5 561.0 1415.0C560.6 1410.2 557.5 1405.6 557.0 1400.0C556.4 1394.0 557.0 1385.2 558.0 1380.0C558.9 1375.7 560.8 1370.0 562.0 1370.0C563.2 1370.0 564.5 1375.9 565.0 1380.0C565.6 1384.9 565.7 1393.7 565.0 1398.0C564.4 1401.3 562.8 1405.5 562.0 1405.0C561.0 1404.3 560.0 1395.5 560.0 1390.0C560.0 1384.0 561.4 1376.0 562.5 1370.0C563.5 1364.4 564.8 1359.3 566.0 1355.0C567.1 1351.1 568.6 1344.6 569.5 1345.0C570.5 1345.4 571.2 1354.3 571.2 1360.0C571.2 1366.4 570.0 1381.2 569.0 1382.0C568.2 1382.6 566.7 1374.8 566.0 1370.0C565.2 1364.4 565.4 1355.6 565.0 1350.0C564.7 1345.2 564.3 1340.8 564.0 1338.0C563.8 1335.9 563.7 1335.1 563.5 1333.6" stroke="#c8891e" stroke-width="1.00" fill="none" stroke-linejoin="round" stroke-linecap="round"/><path d="M516.2 1419.2C503.7 1420.3 491.5 1421.6 478.8 1422.4C465.9 1423.3 452.5 1424.0 439.4 1424.6C426.2 1425.1 413.1 1425.6 400.0 1425.8C386.8 1426.0 374.8 1425.9 360.5 1425.8C345.4 1425.6 326.5 1425.3 311.3 1424.9C297.1 1424.5 283.8 1424.2 271.9 1423.5C260.9 1422.9 251.5 1421.7 242.1 1420.9C233.1 1420.2 223.6 1419.5 216.5 1418.8C210.3 1418.3 203.9 1417.8 201.1 1417.2C199.4 1416.9 199.4 1416.0 198.6 1416.1C197.7 1416.1 196.6 1416.7 196.0 1417.4C195.3 1418.3 194.8 1419.7 194.7 1421.1C194.7 1422.7 195.3 1424.7 196.0 1426.7C196.7 1428.9 198.0 1431.8 199.0 1433.6C199.8 1435.2 200.5 1437.1 201.5 1437.3C202.6 1437.6 204.1 1435.8 205.4 1435.3C206.5 1434.7 208.0 1434.5 208.8 1434.1C209.4 1433.8 209.9 1433.0 210.1 1432.9C210.1 1432.9 210.0 1433.1 210.1 1433.0C210.8 1432.6 219.4 1428.3 222.8 1424.5C226.3 1420.7 228.6 1415.5 230.7 1410.1C233.0 1404.3 234.2 1397.8 235.9 1390.5C237.7 1382.6 239.4 1370.9 241.1 1364.3C242.5 1359.1 243.6 1352.6 245.1 1352.6C246.6 1352.6 248.8 1359.5 250.3 1364.3C252.0 1369.7 252.9 1376.7 254.2 1384.0C255.6 1391.9 256.3 1409.6 258.2 1410.1C259.9 1410.6 261.3 1395.8 264.7 1390.5C267.9 1385.4 271.9 1381.7 277.8 1378.7C284.5 1375.3 295.3 1373.6 304.0 1372.2C312.7 1370.8 318.9 1371.7 330.0 1370.2C343.8 1368.3 361.3 1365.1 382.5 1360.7C407.6 1355.6 453.5 1345.5 473.4 1340.3C487.3 1336.7 490.1 1336.3 500.0 1331.7C511.4 1326.4 526.7 1316.5 538.5 1308.6C549.7 1301.1 561.5 1293.1 569.3 1285.5C576.1 1278.9 580.2 1271.7 584.0 1266.0C587.3 1261.0 588.8 1257.2 591.2 1252.8" stroke="#6aa62a" stroke-width="1.00" fill="none" stroke-linejoin="round" stroke-linecap="round"/><path d="M516.2 1426.2C503.7 1426.8 491.5 1427.6 478.8 1428.1C465.9 1428.7 452.5 1429.1 439.4 1429.4C426.2 1429.7 413.1 1430.0 400.0 1430.1C386.8 1430.2 374.8 1430.2 360.5 1430.1C345.4 1430.0 325.9 1429.7 311.3 1429.4C298.1 1429.1 286.1 1429.0 276.2 1428.5C267.6 1428.0 260.7 1427.0 254.6 1426.5C249.3 1426.0 244.0 1424.7 241.3 1425.3C239.4 1425.7 239.8 1427.8 238.3 1427.9C236.4 1427.9 230.3 1424.4 230.2 1423.8C230.1 1423.4 233.6 1424.0 235.4 1424.2C237.3 1424.5 239.9 1425.9 241.2 1425.5C242.4 1425.0 242.6 1423.4 243.2 1422.0C243.8 1420.4 244.7 1418.0 244.9 1416.0C245.1 1414.0 244.8 1410.9 244.4 1410.0C244.1 1409.4 243.5 1409.3 243.2 1409.6C242.6 1410.1 242.0 1412.3 241.9 1414.0C241.8 1415.9 242.2 1420.2 242.7 1420.5C243.2 1420.6 244.1 1418.4 244.6 1416.4C245.3 1413.9 245.9 1409.2 246.1 1406.0C246.2 1403.0 246.2 1399.6 245.7 1397.9C245.4 1396.8 244.9 1395.9 244.4 1395.9C243.9 1395.9 243.1 1396.9 242.7 1397.9C242.3 1399.3 242.0 1402.2 242.1 1404.0C242.2 1405.6 242.7 1408.2 243.2 1408.2C243.6 1408.2 244.6 1405.5 245.0 1404.0C245.3 1402.4 245.4 1400.4 245.1 1398.9C244.9 1397.5 244.2 1396.6 243.5 1395.1C242.8 1393.6 241.5 1392.0 240.9 1389.9C240.3 1387.6 240.2 1384.5 240.2 1381.9C240.2 1379.2 240.4 1375.7 240.9 1373.9C241.3 1372.4 242.0 1370.9 242.6 1370.8C243.1 1370.8 243.9 1372.0 244.3 1373.0C244.7 1374.2 244.8 1375.9 244.9 1377.8C245.0 1380.1 244.8 1383.2 244.6 1385.9C244.4 1388.6 243.3 1392.9 243.8 1393.9C244.2 1394.7 245.6 1394.8 246.1 1393.9C246.8 1392.4 246.0 1385.1 245.7 1381.9C245.5 1379.2 245.1 1376.0 244.6 1375.4C244.3 1375.1 243.7 1375.6 243.5 1376.3C243.1 1377.3 243.2 1379.7 243.3 1381.9C243.5 1384.2 244.3 1387.5 244.6 1389.9C244.9 1392.1 244.8 1394.6 245.4 1395.9C245.8 1397.0 246.5 1397.9 247.2 1397.9C247.9 1397.9 248.8 1397.0 249.4 1395.9C250.2 1394.6 250.9 1392.2 251.3 1389.9C251.7 1387.5 251.8 1384.4 251.7 1381.9C251.6 1379.5 251.3 1375.4 250.9 1375.1C250.7 1374.8 250.2 1376.5 250.0 1377.8C249.8 1379.7 249.8 1383.5 250.2 1385.9C250.5 1388.1 250.9 1390.7 251.7 1391.9C252.3 1392.8 253.2 1393.5 253.9 1393.3C254.7 1393.2 255.4 1391.8 256.1 1390.7C256.9 1389.4 257.8 1388.2 258.3 1385.9C259.1 1383.0 259.7 1377.5 259.8 1373.9C259.9 1370.6 259.6 1366.5 259.2 1365.0C259.0 1364.1 258.6 1363.5 258.3 1363.8C258.0 1364.2 257.6 1367.6 257.6 1369.8C257.6 1372.2 257.7 1376.2 258.3 1377.8C258.9 1379.1 259.8 1379.6 260.6 1379.9C261.3 1380.1 262.1 1380.0 262.8 1379.5C263.6 1378.8 264.5 1377.6 265.0 1375.8C265.7 1373.5 266.0 1369.4 266.1 1365.8C266.3 1362.0 266.1 1356.1 265.9 1353.8C265.7 1352.3 265.6 1351.4 265.3 1351.4C265.1 1351.4 264.7 1352.3 264.6 1353.8C264.4 1356.1 264.5 1363.1 265.0 1365.8C265.4 1367.8 266.1 1368.9 266.8 1369.8C267.4 1370.6 268.4 1371.2 269.0 1371.2C269.5 1371.3 269.9 1370.7 270.0 1370.6C270.1 1370.6 270.2 1370.8 270.2 1370.6C270.1 1369.7 267.0 1362.3 266.0 1358.0C265.0 1353.7 263.8 1345.5 264.0 1345.0C264.2 1344.6 265.7 1349.8 266.5 1352.0C267.2 1354.1 267.8 1356.1 268.6 1357.8C269.3 1359.4 270.2 1362.6 271.0 1362.0C272.0 1361.2 273.1 1348.7 273.9 1348.6C274.7 1348.5 275.1 1356.4 276.0 1360.0C276.9 1363.4 278.1 1369.7 279.1 1369.6C280.1 1369.4 281.0 1362.2 282.0 1358.0C283.1 1353.5 284.6 1343.6 285.6 1343.4C286.6 1343.2 287.0 1351.8 288.0 1355.0C288.8 1357.7 290.0 1362.0 290.9 1361.7C292.0 1361.3 292.8 1354.2 294.0 1350.0C295.3 1345.5 297.7 1340.5 298.7 1335.5C299.7 1330.5 300.0 1325.0 300.0 1320.0C300.0 1315.2 299.5 1309.5 299.0 1306.0C298.6 1303.3 297.9 1300.0 297.5 1300.0C297.1 1300.0 296.8 1303.4 296.8 1306.0C296.8 1309.2 297.3 1314.5 298.0 1318.0C298.6 1321.1 299.8 1326.3 300.5 1326.0C301.2 1325.7 301.7 1317.8 302.0 1314.0C302.3 1310.5 302.6 1305.9 302.2 1304.0C301.9 1302.7 301.1 1301.6 300.8 1302.0C300.3 1302.5 300.1 1306.9 300.2 1310.0C300.3 1313.5 300.9 1318.3 301.5 1322.0C302.0 1325.6 302.5 1329.4 303.5 1332.0C304.3 1334.1 304.7 1335.8 306.6 1336.8C308.9 1338.0 313.3 1337.8 317.0 1337.5C321.0 1337.2 326.5 1335.8 330.0 1334.9C333.0 1334.2 332.4 1332.7 337.1 1332.6C345.2 1332.4 367.4 1334.9 382.5 1338.0C397.7 1341.2 410.8 1347.9 427.9 1351.6C446.7 1355.6 480.7 1359.7 491.5 1360.7C497.4 1361.3 495.2 1361.6 500.0 1360.6C507.7 1359.1 525.9 1354.9 538.5 1349.0C551.6 1342.9 565.3 1333.1 577.0 1324.0C588.4 1315.1 600.3 1298.2 607.8 1295.1C612.9 1293.0 614.6 1298.8 619.3 1297.8C625.3 1296.5 638.5 1288.0 641.6 1284.7C643.5 1282.6 641.9 1278.2 642.4 1279.7C643.3 1282.4 645.5 1307.2 647.0 1320.9" stroke="#d4561c" stroke-width="1.00" fill="none" stroke-linejoin="round" stroke-linecap="round"/><path d="M516.2 1432.9C503.7 1433.3 491.5 1433.8 478.8 1434.0C465.9 1434.3 452.5 1434.3 439.4 1434.4C426.2 1434.5 413.1 1434.5 400.0 1434.5C386.8 1434.5 372.4 1434.5 360.5 1434.3C349.7 1434.2 340.3 1434.1 331.0 1433.9C322.3 1433.7 311.4 1433.6 306.4 1433.1C303.1 1432.9 300.2 1432.4 300.5 1432.1C300.9 1431.7 307.0 1431.4 311.3 1431.3C316.3 1431.2 324.8 1432.0 329.1 1431.6C332.3 1431.2 333.1 1429.5 336.0 1429.6C339.4 1429.7 344.7 1432.2 348.8 1433.1C352.6 1434.0 357.3 1435.1 359.6 1435.3C361.2 1435.4 361.5 1435.5 362.5 1434.8C363.8 1433.8 365.2 1430.4 366.5 1428.9C367.6 1427.6 368.9 1425.8 369.8 1426.0C370.9 1426.2 371.8 1428.6 372.4 1430.4C373.1 1432.5 372.1 1437.1 373.3 1437.9C374.5 1438.7 377.0 1436.7 379.3 1435.8C381.9 1434.8 385.2 1433.7 388.2 1432.1C391.4 1430.4 397.5 1426.2 398.0 1425.8C398.1 1425.7 397.8 1425.9 397.9 1425.8C398.5 1425.2 405.7 1418.2 410.0 1415.0C414.2 1411.8 419.5 1407.7 423.4 1406.5C426.7 1405.5 429.7 1405.7 432.0 1407.0C434.3 1408.3 436.8 1411.9 437.0 1414.0C437.2 1415.9 433.8 1418.6 434.0 1419.0C434.2 1419.4 434.5 1418.0 437.0 1417.5C442.0 1416.5 457.4 1415.6 470.0 1414.5C484.2 1413.3 501.5 1412.3 518.8 1410.7C537.1 1409.1 557.7 1407.7 577.0 1404.8C596.3 1401.9 616.9 1397.3 634.7 1393.3C651.4 1389.6 667.7 1387.2 680.9 1381.7C693.1 1376.7 702.2 1370.6 711.7 1362.5C721.5 1354.1 730.9 1343.1 738.6 1331.7C746.4 1320.1 753.1 1308.3 757.9 1293.2C763.1 1276.7 765.8 1252.2 767.5 1235.5C769.0 1220.7 769.1 1208.3 768.3 1197.0C767.6 1186.8 765.9 1176.8 763.7 1170.0C761.9 1164.4 759.3 1161.8 757.1 1157.7" stroke="#1f4f86" stroke-width="1.00" fill="none" stroke-linejoin="round" stroke-linecap="round"/><path d="M1082.7 1398.6C1070.2 1400.9 1057.9 1403.4 1045.2 1405.4C1032.3 1407.3 1018.9 1409.0 1005.8 1410.2C992.7 1411.4 979.5 1412.0 966.4 1412.5C953.3 1413.0 941.2 1413.1 927.0 1413.0C911.8 1412.9 892.4 1412.4 877.8 1411.8C864.6 1411.2 853.0 1410.4 842.6 1409.6C833.3 1408.8 826.2 1408.2 817.9 1407.0C809.4 1405.9 800.3 1404.1 792.3 1402.6C784.7 1401.3 776.3 1399.4 771.0 1398.7C766.8 1398.1 764.0 1398.3 761.6 1398.0C759.7 1397.8 758.5 1397.0 757.3 1397.2C756.2 1397.4 755.4 1398.0 754.7 1398.9C754.0 1400.0 753.5 1401.8 753.0 1403.6C752.5 1405.6 752.1 1408.2 751.8 1410.5C751.4 1412.8 751.3 1416.0 750.9 1417.4C750.7 1418.5 750.6 1418.8 750.1 1419.3C749.4 1419.8 748.0 1420.2 747.1 1420.2C746.2 1420.3 745.1 1419.4 744.5 1419.8C743.9 1420.1 743.2 1422.3 743.7 1422.5C744.1 1422.8 746.5 1421.1 747.9 1420.7C749.3 1420.3 751.9 1420.2 752.2 1420.2C752.3 1420.2 751.9 1420.1 752.0 1420.3C752.3 1420.8 754.8 1424.6 757.0 1426.0C759.3 1427.5 761.3 1427.9 765.8 1428.6C772.0 1429.6 786.0 1431.0 793.5 1430.9C799.8 1430.8 804.3 1430.5 808.9 1428.6C813.5 1426.7 816.2 1423.4 821.2 1419.4C827.2 1414.6 835.5 1407.9 842.8 1400.9C850.4 1393.6 858.0 1383.5 865.9 1376.2C873.4 1369.2 881.1 1362.5 889.0 1357.8C896.5 1353.4 904.4 1351.1 912.1 1348.5C919.7 1345.9 925.0 1344.4 935.0 1342.1C947.5 1339.3 967.1 1337.0 983.9 1332.9C1001.3 1328.6 1019.9 1322.9 1037.8 1316.7C1055.8 1310.4 1073.9 1303.6 1091.7 1295.2C1109.8 1286.6 1131.5 1273.6 1145.6 1265.5C1157.1 1258.9 1166.3 1254.2 1172.5 1249.3C1177.4 1245.4 1180.2 1242.3 1182.0 1238.6C1183.6 1235.2 1184.1 1230.8 1183.3 1227.8C1182.6 1225.0 1180.1 1221.2 1177.9 1221.1C1175.6 1221.0 1171.6 1223.6 1169.8 1227.8C1167.4 1233.3 1167.4 1244.3 1167.1 1254.7C1166.8 1266.4 1167.1 1282.4 1168.5 1295.2C1169.9 1307.5 1172.1 1319.6 1175.2 1330.2C1178.1 1340.1 1182.7 1349.4 1186.0 1357.1C1188.9 1363.9 1191.4 1368.8 1194.1 1374.6" stroke="#de4c6a" stroke-width="1.00" fill="none" stroke-linejoin="round" stroke-linecap="round"/><path d="M1082.7 1405.6C1070.2 1407.4 1057.9 1409.7 1045.2 1411.2C1032.3 1412.8 1018.9 1414.0 1005.8 1415.0C992.7 1415.9 979.5 1416.6 966.4 1417.0C953.3 1417.4 941.2 1417.5 927.0 1417.4C911.8 1417.4 895.3 1417.2 877.8 1416.4C859.1 1415.5 832.8 1413.6 817.9 1412.1C806.3 1411.0 800.3 1409.9 792.3 1408.7C784.7 1407.5 776.5 1405.6 771.0 1405.0C766.5 1404.4 763.1 1404.9 760.7 1404.5C758.9 1404.2 758.0 1403.0 756.9 1403.2C755.8 1403.4 755.1 1404.3 754.3 1405.4C753.5 1406.7 752.7 1408.5 752.2 1410.5C751.6 1412.8 751.3 1416.4 750.9 1418.8C750.6 1421.0 750.5 1422.9 750.1 1424.4C749.6 1425.7 749.0 1427.5 748.3 1427.6C747.7 1427.8 746.9 1426.7 746.2 1425.8C745.3 1424.6 744.1 1422.2 743.7 1420.7C743.2 1419.4 743.1 1417.5 743.2 1417.4C743.3 1417.4 744.0 1419.4 744.1 1419.8C744.1 1419.9 744.0 1419.7 744.1 1420.0C744.5 1420.8 746.2 1425.5 748.1 1427.0C749.9 1428.4 751.2 1428.6 755.0 1429.0C760.6 1429.6 770.5 1429.3 781.2 1429.4C793.9 1429.5 806.6 1429.5 827.4 1429.5C854.2 1429.5 903.2 1429.8 935.0 1429.4C963.6 1429.0 992.6 1427.3 1010.8 1427.2C1024.5 1427.1 1032.4 1427.4 1040.0 1428.0C1046.1 1428.4 1050.5 1430.3 1054.0 1429.9C1056.8 1429.6 1057.8 1427.7 1060.0 1427.0C1062.3 1426.3 1067.2 1426.3 1067.4 1425.9C1067.5 1425.5 1064.0 1424.4 1062.0 1424.5C1059.9 1424.6 1056.8 1428.1 1055.0 1427.0C1052.9 1425.7 1051.8 1419.0 1051.0 1415.0C1050.2 1411.0 1050.3 1407.1 1049.9 1402.9C1049.5 1398.6 1049.2 1389.6 1048.6 1389.5C1048.0 1389.4 1046.9 1397.9 1046.5 1402.0C1046.1 1406.0 1047.2 1412.4 1045.9 1413.7C1044.9 1414.7 1042.3 1413.5 1041.0 1412.0C1039.4 1410.3 1038.7 1407.4 1037.8 1402.9C1036.6 1396.7 1035.9 1376.6 1035.1 1376.0C1034.3 1375.5 1034.0 1388.0 1033.0 1395.0C1032.0 1402.6 1030.8 1414.3 1029.0 1420.0C1027.7 1424.3 1025.5 1430.2 1024.3 1428.5C1022.5 1425.9 1021.8 1400.9 1021.6 1389.5C1021.5 1379.3 1021.6 1371.1 1023.0 1362.5C1024.4 1354.1 1026.6 1343.8 1029.7 1338.3C1032.2 1333.9 1036.2 1330.1 1039.1 1330.2C1042.0 1330.3 1044.5 1335.9 1047.2 1338.8" stroke="#c478d8" stroke-width="1.00" fill="none" stroke-linejoin="round" stroke-linecap="round"/><path d="M1082.7 1412.3C1070.2 1413.8 1057.9 1415.6 1045.2 1416.8C1032.3 1418.1 1018.9 1419.0 1005.8 1419.8C992.7 1420.5 979.5 1421.0 966.4 1421.3C953.3 1421.6 941.2 1421.7 927.0 1421.6C911.8 1421.5 895.3 1421.4 877.8 1420.6C859.1 1419.8 832.8 1417.9 817.9 1416.8C806.3 1415.8 800.3 1415.2 792.3 1414.2C784.7 1413.3 775.6 1411.7 771.0 1411.2C767.8 1410.8 766.8 1410.8 765.0 1410.7C763.4 1410.7 761.9 1411.1 760.7 1410.9C759.7 1410.7 759.0 1409.9 758.2 1409.6C757.4 1409.3 756.7 1408.8 756.0 1409.0C755.3 1409.2 754.3 1410.0 753.9 1411.0C753.4 1412.0 753.2 1413.9 753.5 1415.1C753.7 1416.3 754.4 1417.6 755.2 1418.4C755.9 1419.1 757.0 1419.7 758.0 1419.5C759.0 1419.3 760.3 1418.1 761.1 1417.0C762.1 1415.9 762.8 1414.5 763.3 1412.8C763.8 1410.9 764.1 1408.8 764.1 1405.9C764.2 1402.2 763.8 1396.6 763.4 1392.0C763.0 1387.4 762.6 1382.0 761.7 1378.1C761.0 1374.8 760.2 1371.6 759.0 1369.8C758.0 1368.3 756.6 1367.1 755.4 1367.2C754.2 1367.4 752.7 1368.7 751.8 1370.7C750.5 1373.3 750.0 1378.5 749.5 1382.7C748.9 1387.1 748.7 1392.3 748.8 1396.6C748.9 1400.7 749.6 1404.3 750.1 1408.2C750.6 1412.0 751.1 1416.2 751.8 1419.8C752.4 1423.1 752.8 1426.4 753.9 1429.0C754.9 1431.5 756.8 1435.1 758.2 1435.3C759.4 1435.4 760.7 1433.4 761.6 1431.3C762.6 1428.7 762.8 1423.3 763.3 1419.8C763.7 1416.4 763.7 1412.8 764.1 1410.5C764.5 1408.7 765.3 1406.8 765.4 1406.6C765.4 1406.5 765.4 1406.7 765.4 1406.6C765.4 1405.9 766.2 1395.7 766.6 1390.0C767.0 1384.1 767.1 1372.4 767.6 1371.6C768.0 1371.0 768.9 1376.3 769.2 1380.0C769.6 1384.6 769.0 1393.3 769.6 1398.0C770.1 1401.9 770.6 1405.1 772.0 1407.0C773.1 1408.6 775.0 1410.2 776.6 1409.4C778.7 1408.4 781.1 1403.0 783.0 1398.0C785.3 1392.0 787.3 1382.2 789.0 1375.0C790.6 1368.1 792.0 1355.3 793.2 1355.5C794.4 1355.7 794.5 1370.0 796.0 1378.0C797.6 1386.6 800.1 1400.0 802.7 1405.5C804.6 1409.4 806.3 1411.8 808.9 1411.7C811.9 1411.5 816.6 1405.6 819.7 1402.4C822.7 1399.4 824.5 1395.7 827.4 1393.2C830.2 1390.8 833.6 1390.0 836.6 1387.8C839.8 1385.4 842.6 1383.2 845.9 1379.3C849.8 1374.7 853.6 1366.8 858.2 1360.9C862.8 1355.0 868.3 1348.6 873.6 1343.9C878.6 1339.5 882.9 1335.9 889.0 1333.1C895.6 1330.1 904.4 1328.8 912.1 1327.0C919.7 1325.2 925.0 1324.6 935.0 1322.4C947.6 1319.7 967.1 1315.7 983.9 1311.3C1001.3 1306.7 1019.8 1300.6 1037.8 1295.2C1055.8 1289.8 1076.6 1282.5 1091.7 1279.0C1104.5 1276.0 1115.5 1273.7 1124.0 1274.1C1131.0 1274.4 1135.3 1276.0 1140.2 1279.0C1145.3 1282.1 1149.7 1287.6 1153.7 1292.5C1157.7 1297.4 1161.1 1303.9 1164.4 1308.6C1167.4 1312.9 1170.0 1320.1 1172.5 1320.0C1175.0 1319.9 1177.8 1313.9 1179.3 1308.6C1181.1 1302.0 1181.3 1290.7 1181.1 1281.7C1180.9 1272.7 1179.7 1261.1 1177.9 1254.7C1176.5 1249.7 1174.2 1244.5 1172.5 1244.5C1170.8 1244.5 1168.7 1249.4 1167.7 1254.7C1166.3 1262.0 1166.5 1276.3 1167.1 1287.1C1167.7 1297.9 1168.8 1309.7 1171.2 1319.4C1173.4 1328.5 1177.1 1336.4 1180.6 1343.7C1183.9 1350.6 1187.8 1357.4 1191.4 1362.5C1194.6 1367.0 1197.7 1369.7 1200.8 1373.3" stroke="#f8b450" stroke-width="1.00" fill="none" stroke-linejoin="round" stroke-linecap="round"/><path d="M1082.7 1419.2C1070.2 1420.3 1057.9 1421.6 1045.2 1422.4C1032.3 1423.3 1018.9 1424.0 1005.8 1424.6C992.7 1425.1 979.5 1425.6 966.4 1425.8C953.3 1426.0 941.2 1425.9 927.0 1425.8C911.8 1425.6 895.3 1425.5 877.8 1424.9C859.1 1424.2 832.8 1422.6 817.9 1421.6C806.3 1420.8 799.9 1420.2 792.3 1419.3C785.3 1418.5 776.3 1417.0 773.5 1416.5C772.1 1416.3 772.4 1415.9 771.8 1416.1C771.0 1416.3 770.1 1418.0 769.2 1418.1C768.4 1418.3 767.3 1417.1 766.7 1417.2C766.1 1417.4 765.6 1417.9 765.4 1418.8C765.1 1420.0 765.3 1422.4 765.8 1424.4C766.5 1426.6 767.9 1429.4 769.2 1431.3C770.5 1433.1 772.0 1434.7 773.5 1435.5C775.0 1436.2 776.6 1436.6 778.2 1436.2C780.0 1435.7 782.1 1433.6 783.7 1432.3C785.3 1430.9 786.5 1429.1 788.0 1428.1C789.4 1427.1 790.9 1426.5 792.3 1426.0C793.6 1425.6 795.7 1425.4 796.1 1425.3C796.2 1425.3 796.1 1425.4 796.2 1425.3C796.5 1424.9 798.5 1423.5 799.7 1419.4C801.7 1412.5 803.6 1391.6 805.8 1380.9C807.7 1371.6 809.9 1362.9 812.0 1357.8C813.5 1354.1 814.9 1350.7 816.6 1350.8C818.4 1350.9 820.8 1355.8 822.8 1359.3C825.0 1363.2 826.7 1369.5 828.9 1373.2C830.8 1376.5 832.4 1380.7 835.1 1380.9C838.0 1381.1 842.1 1376.0 845.9 1373.2C849.8 1370.3 854.1 1366.9 858.2 1363.9C862.3 1361.0 866.5 1356.1 870.5 1355.5C874.2 1354.9 878.1 1359.0 881.3 1359.3C884.2 1359.6 885.7 1358.6 889.0 1357.8C893.1 1356.8 897.8 1354.7 904.4 1353.2C912.4 1351.4 923.0 1349.9 935.0 1347.8C948.9 1345.4 967.1 1342.9 983.9 1339.6C1001.3 1336.2 1019.9 1332.6 1037.8 1327.5C1055.9 1322.3 1073.8 1315.3 1091.7 1308.6C1109.7 1301.9 1129.6 1295.5 1145.6 1287.1C1160.8 1279.2 1175.4 1269.6 1186.0 1260.1C1195.5 1251.5 1202.2 1243.1 1207.6 1233.2C1213.0 1223.3 1216.2 1211.7 1218.3 1200.8C1220.4 1190.1 1218.9 1172.7 1220.5 1168.5C1221.3 1166.4 1222.2 1167.9 1223.7 1167.2C1225.7 1166.3 1229.1 1166.0 1231.8 1163.1C1235.3 1159.4 1238.5 1150.2 1242.6 1144.3C1246.6 1138.5 1251.5 1133.5 1256.0 1128.1" stroke="#ace478" stroke-width="1.00" fill="none" stroke-linejoin="round" stroke-linecap="round"/><path d="M1082.7 1426.2C1070.2 1426.8 1057.9 1427.6 1045.2 1428.1C1032.3 1428.7 1018.9 1429.1 1005.8 1429.4C992.7 1429.7 979.5 1430.0 966.4 1430.1C953.3 1430.2 945.9 1430.5 927.0 1430.1C901.3 1429.6 835.7 1427.4 817.9 1426.5C808.5 1426.0 808.4 1425.8 805.1 1425.3C802.3 1424.9 799.0 1423.4 798.7 1423.7C798.4 1424.0 801.0 1425.8 802.5 1426.7C804.1 1427.7 806.4 1429.4 808.1 1429.2C809.7 1429.1 811.2 1427.4 812.3 1426.2C813.4 1425.0 814.0 1423.7 814.9 1422.1C815.9 1420.3 817.6 1418.5 818.3 1416.1C819.1 1413.3 819.2 1409.2 819.2 1405.9C819.1 1402.7 818.5 1398.1 817.9 1396.6C817.5 1395.8 817.0 1395.4 816.6 1395.7C816.0 1396.1 815.3 1398.3 814.9 1400.3C814.4 1402.9 814.3 1407.1 814.5 1410.5C814.6 1414.0 815.1 1420.9 815.7 1421.1C816.3 1421.4 817.4 1416.9 817.9 1414.2C818.4 1411.2 818.7 1406.4 818.3 1403.6C818.0 1401.2 816.8 1397.8 816.2 1398.0C815.4 1398.2 814.3 1402.9 814.0 1405.9C813.7 1409.2 813.7 1416.7 814.5 1417.4C815.0 1418.0 816.4 1415.8 817.0 1414.2C817.8 1412.2 818.4 1408.2 818.3 1405.9C818.2 1403.8 817.3 1401.9 816.6 1400.8C816.0 1399.9 815.1 1400.3 814.5 1399.4C813.6 1398.3 813.0 1396.4 812.3 1394.3C811.5 1391.8 810.4 1387.7 810.2 1385.1C810.0 1382.7 810.3 1380.6 810.6 1379.0C810.9 1377.8 811.4 1376.3 811.9 1376.3C812.4 1376.2 813.2 1377.6 813.6 1379.0C814.2 1381.1 814.5 1385.2 814.5 1388.3C814.5 1391.5 813.4 1398.0 813.6 1398.0C813.8 1398.0 815.2 1391.0 815.7 1388.3C816.2 1385.9 816.2 1382.4 816.6 1382.3C816.9 1382.2 817.6 1385.3 817.9 1387.4C818.2 1389.9 818.1 1396.6 818.3 1396.6C818.5 1396.7 819.0 1391.0 819.2 1388.3C819.3 1385.6 819.2 1381.0 819.2 1380.4C819.1 1380.2 819.0 1380.2 819.0 1380.7C819.1 1382.4 820.8 1394.1 822.0 1400.0C823.1 1405.5 824.2 1414.5 826.0 1415.0C827.6 1415.5 829.9 1409.0 832.0 1405.0C834.4 1400.4 838.1 1396.2 839.7 1388.6C841.8 1379.1 841.3 1361.9 841.5 1350.0C841.7 1338.9 841.8 1328.7 841.2 1319.3C840.6 1310.5 839.7 1299.9 838.0 1295.0C836.8 1291.6 834.7 1288.6 833.5 1289.3C832.0 1290.2 830.4 1298.2 830.5 1303.9C830.6 1310.5 832.9 1321.3 835.1 1327.0C836.9 1331.7 839.3 1334.8 842.0 1337.0C844.5 1339.0 847.9 1340.7 850.5 1340.1C853.2 1339.5 855.6 1336.1 858.0 1333.0C860.7 1329.4 863.7 1325.4 865.9 1319.3C868.6 1311.9 870.5 1300.2 872.0 1290.0C873.6 1279.5 874.0 1258.0 875.1 1256.9C876.0 1256.0 876.9 1269.6 878.0 1275.0C879.0 1280.0 879.0 1282.6 881.3 1288.5C884.3 1296.3 891.2 1311.1 896.7 1319.3C901.6 1326.6 905.9 1331.3 912.1 1336.2C918.6 1341.3 925.9 1345.5 935.0 1349.3C945.0 1353.5 958.0 1357.4 970.4 1359.8C983.2 1362.3 995.9 1364.2 1010.8 1363.9C1027.1 1363.6 1047.0 1362.5 1064.7 1357.1C1083.0 1351.5 1102.7 1341.2 1118.6 1330.2C1134.1 1319.5 1148.5 1305.6 1159.0 1292.5C1168.8 1280.3 1175.1 1266.8 1180.6 1254.7C1185.7 1243.5 1188.3 1233.8 1191.4 1222.4C1194.6 1210.5 1198.1 1194.8 1199.5 1184.7C1200.6 1176.5 1200.1 1170.7 1200.3 1165.0C1200.5 1159.9 1201.0 1152.2 1200.8 1151.8C1200.6 1151.5 1199.5 1156.7 1199.3 1160.0C1199.0 1163.9 1198.7 1169.7 1199.5 1173.9C1200.2 1177.9 1201.3 1185.0 1203.5 1184.7C1206.2 1184.3 1211.6 1173.4 1215.6 1165.8C1220.0 1157.3 1225.8 1136.5 1228.6 1135.6C1230.8 1134.8 1231.1 1145.9 1232.3 1151.0" stroke="#f88a5a" stroke-width="1.00" fill="none" stroke-linejoin="round" stroke-linecap="round"/><path d="M1082.7 1432.9C1070.2 1433.3 1057.9 1433.8 1045.2 1434.0C1032.3 1434.3 1018.9 1434.3 1005.8 1434.4C992.7 1434.5 979.5 1434.5 966.4 1434.5C953.3 1434.5 940.3 1434.5 927.0 1434.3C913.5 1434.1 896.6 1433.8 885.9 1433.4C877.2 1433.0 866.0 1432.5 865.6 1432.1C865.3 1431.7 875.6 1431.0 880.1 1431.0C884.2 1431.0 888.1 1432.6 891.7 1432.1C895.0 1431.7 898.0 1428.4 900.9 1428.6C903.7 1428.9 906.5 1432.3 909.0 1433.4C911.1 1434.3 912.6 1435.8 914.8 1435.2C917.3 1434.6 921.4 1428.5 923.4 1428.3C924.9 1428.2 925.5 1430.3 926.3 1431.8C927.2 1433.5 928.6 1437.4 928.6 1438.0C928.6 1438.4 927.8 1438.0 928.0 1438.0C928.4 1438.1 933.4 1439.1 933.6 1438.6C933.8 1438.1 930.7 1437.5 929.0 1434.8C926.4 1430.6 922.1 1419.5 919.8 1411.7C917.5 1404.1 916.4 1397.1 915.1 1388.6C913.7 1379.3 912.9 1369.5 912.1 1357.8C911.3 1344.7 908.0 1318.9 910.5 1313.1C912.0 1309.7 915.6 1312.6 918.2 1312.4" stroke="#5a9ad8" stroke-width="1.00" fill="none" stroke-linejoin="round" stroke-linecap="round"/>
<path d="M113.5 1128.1V1438.5H1275.0M113.4 1438.5V1426.5M255.1 1438.5V1426.5M396.7 1438.5V1426.5M538.4 1438.5V1426.5M680.0 1438.5V1426.5M821.6 1438.5V1426.5M963.3 1438.5V1426.5M1105.0 1438.5V1426.5M1246.6 1438.5V1426.5M113.5 1438.2H125.5M113.5 1294.7H125.5M113.5 1151.2H125.5" stroke="#333" stroke-width="1.05" fill="none"/>
<text class="t" x="113.4" y="1485.6" text-anchor="middle">5</text>
<text class="t" x="255.1" y="1485.6" text-anchor="middle">5.5</text>
<text class="t" x="396.7" y="1485.6" text-anchor="middle">6</text>
<text class="t" x="538.4" y="1485.6" text-anchor="middle">6.5</text>
<text class="t" x="680.0" y="1485.6" text-anchor="middle">7</text>
<text class="t" x="821.6" y="1485.6" text-anchor="middle">7.5</text>
<text class="t" x="963.3" y="1485.6" text-anchor="middle">8</text>
<text class="t" x="1105.0" y="1485.6" text-anchor="middle">8.5</text>
<text class="t" x="1246.6" y="1485.6" text-anchor="middle">9</text>
<text class="t" x="103.5" y="1451.8" text-anchor="end">0</text>
<text class="t" x="103.5" y="1308.3" text-anchor="end">10</text>
<text class="t" x="103.5" y="1164.8" text-anchor="end">20</text>
<text class="pl" x="18.8" y="1076.9">C</text>
<text class="m" style="font-size:43px" x="655.0" y="1530.3">x</text><path d="M680.1 1539.0L694.5 1499.1" stroke="#262626" stroke-width="2.1" stroke-linecap="butt"/><text class="m" style="font-size:45px" x="699.4" y="1530.3">H</text>
<g transform="translate(42.5 1283.3) rotate(-90)"><text class="m" style="font-size:44px" x="-28.5" y="0">z</text><path d="M-7.8 9.0L6.5 -31.0" stroke="#262626" stroke-width="2.1" stroke-linecap="butt"/><text class="m" style="font-size:42px" x="11.7" y="0">δ</text></g>
<path d="M287.3 1661.8V1972.5M482.9 1661.8V1972.5M678.5 1661.8V1972.5M874.0 1661.8V1972.5M1069.6 1661.8V1972.5M1265.2 1661.8V1972.5M103.5 1848.3H1265.2M103.5 1724.4H1265.2" stroke="#e3e3e3" stroke-width="1.0" fill="none"/>
<path d="M813.5 1669.5V1972.3" stroke="#ff0000" stroke-width="1.1" stroke-dasharray="14.5 9.6" fill="none"/><path d="M857.0 1661.8V1972.3" stroke="#ff0000" stroke-width="1.0" fill="none"/><path d="M1069.5 1661.8V1972.3" stroke="#2a2a2a" stroke-width="1.1" fill="none"/><path d="M112.7 1863.3C127.7 1863.8 144.0 1863.1 157.7 1864.7C170.4 1866.2 182.5 1868.3 192.4 1872.1C201.5 1875.6 208.0 1880.0 215.5 1885.9C223.4 1892.1 231.2 1899.6 238.6 1909.0C246.7 1919.3 253.5 1936.5 261.7 1946.0C269.0 1954.4 276.9 1960.2 284.8 1964.5C292.3 1968.5 295.0 1970.2 307.9 1971.6C327.1 1973.8 353.0 1971.8 400.0 1971.9C466.9 1972.0 628.3 1971.8 700.0 1971.9C753.6 1971.9 781.3 1972.1 813.4 1972.1C841.4 1972.2 865.2 1972.2 884.4 1972.1C900.5 1972.1 914.4 1972.5 923.5 1971.9C930.1 1971.4 932.9 1970.9 937.0 1969.6C940.9 1968.3 944.5 1963.9 947.8 1964.0C951.1 1964.2 953.5 1969.9 956.8 1970.0C960.4 1970.2 965.4 1964.4 968.6 1964.2C971.2 1964.1 972.2 1966.9 974.8 1967.3C978.0 1967.7 981.3 1966.0 986.6 1965.9C993.4 1965.7 1004.6 1966.5 1013.6 1966.8C1022.6 1967.1 1032.1 1967.3 1040.6 1967.7C1048.7 1968.1 1054.7 1968.9 1063.7 1969.1C1074.0 1969.3 1088.9 1968.7 1099.8 1968.6C1109.8 1968.4 1117.8 1968.3 1126.8 1968.1C1135.8 1968.0 1143.2 1967.8 1153.8 1967.7C1166.0 1967.6 1179.9 1967.6 1196.7 1967.6C1216.1 1967.6 1242.3 1967.6 1265.0 1967.6" stroke="#5a9ad8" stroke-width="1.00" fill="none" stroke-linejoin="round" stroke-linecap="round"/><path d="M112.7 1812.5C118.5 1812.2 123.2 1811.4 130.0 1811.6C137.8 1811.8 146.7 1812.1 157.7 1814.4C170.7 1817.1 188.5 1824.0 203.9 1828.2C219.3 1832.4 236.2 1836.2 250.1 1839.8C262.9 1843.1 275.0 1844.1 284.8 1849.0C294.1 1853.6 300.3 1860.7 307.9 1867.5C315.7 1874.5 323.1 1883.6 330.9 1890.6C338.5 1897.4 344.6 1904.4 354.0 1909.0C364.1 1913.9 377.0 1914.0 390.0 1918.3C404.2 1923.0 420.7 1931.9 436.2 1936.8C451.5 1941.7 468.4 1947.1 482.4 1947.8C495.1 1948.5 505.6 1946.2 517.0 1942.5C528.7 1938.7 540.2 1931.2 551.7 1925.2C563.3 1919.2 574.6 1911.3 586.3 1906.7C597.7 1902.2 610.9 1897.6 620.9 1897.5C629.8 1897.4 636.5 1900.4 644.0 1904.4C652.0 1908.6 660.0 1917.8 667.1 1922.9C673.5 1927.5 679.8 1930.6 685.0 1934.0C689.6 1937.0 691.6 1939.5 696.9 1942.4C703.4 1945.9 713.8 1950.3 722.3 1953.4C730.7 1956.5 738.3 1958.9 747.7 1961.0C757.9 1963.2 770.5 1965.0 781.6 1966.1C792.4 1967.2 801.7 1967.1 813.4 1967.5C826.1 1968.0 842.1 1968.6 855.3 1968.8C868.0 1969.1 879.4 1969.0 891.4 1969.1C903.4 1969.2 914.8 1969.3 927.4 1969.6C940.5 1969.9 956.7 1970.5 968.6 1970.9C979.0 1971.3 986.6 1972.1 995.6 1971.9C1004.6 1971.6 1014.8 1970.9 1022.6 1969.6C1029.6 1968.4 1036.7 1966.1 1040.6 1964.5C1043.4 1963.4 1043.6 1962.3 1045.7 1961.2C1048.1 1959.9 1051.7 1958.4 1054.7 1957.5C1057.7 1956.6 1061.2 1956.4 1063.7 1955.7C1065.9 1955.0 1066.6 1953.7 1069.1 1953.3C1072.2 1952.9 1077.0 1953.7 1081.8 1954.3C1087.1 1955.0 1093.8 1956.4 1099.8 1957.5C1105.8 1958.6 1111.8 1960.1 1117.8 1960.7C1123.8 1961.4 1130.3 1961.5 1135.8 1961.7C1140.9 1961.8 1144.8 1962.0 1149.9 1961.8C1155.3 1961.6 1161.6 1960.9 1167.4 1960.4C1173.3 1960.0 1178.5 1959.6 1185.0 1959.0C1192.1 1958.4 1201.1 1957.3 1208.4 1956.7C1215.4 1956.3 1219.8 1956.1 1228.0 1956.0C1237.9 1955.8 1252.7 1955.9 1265.0 1955.9" stroke="#6aa62a" stroke-width="1.00" fill="none" stroke-linejoin="round" stroke-linecap="round"/><path d="M112.7 1704.0C123.9 1708.1 134.9 1711.7 146.2 1716.2C157.6 1720.8 170.7 1727.7 180.8 1731.2C189.6 1734.3 195.0 1735.9 203.9 1737.0C213.9 1738.3 228.6 1736.8 238.6 1737.7C247.5 1738.5 254.1 1739.3 261.7 1741.6C269.5 1744.0 276.1 1747.1 284.8 1752.0C294.9 1757.7 307.9 1767.4 319.4 1775.1C330.9 1782.8 344.0 1791.0 354.0 1798.2C363.0 1804.7 370.8 1811.7 377.1 1816.7C382.4 1820.9 384.8 1822.2 390.0 1827.0C396.4 1833.0 404.2 1842.2 413.1 1851.3C423.1 1861.6 435.6 1878.3 447.7 1886.0C458.8 1893.1 470.0 1894.5 482.4 1897.5C495.3 1900.6 509.6 1903.5 524.0 1904.0C538.8 1904.5 555.6 1900.0 570.1 1900.3C584.0 1900.6 597.0 1902.5 609.4 1905.6C621.6 1908.6 633.2 1915.5 644.0 1918.3C653.9 1920.9 663.8 1922.9 671.8 1922.5C678.9 1922.1 684.3 1918.8 690.0 1917.0C695.5 1915.3 699.1 1914.7 705.4 1911.9C713.2 1908.4 726.2 1896.8 734.2 1896.3C741.0 1895.9 746.2 1900.6 751.1 1905.2C756.4 1910.1 759.8 1918.2 764.7 1925.5C769.9 1933.3 775.3 1945.3 781.6 1950.9C787.2 1955.8 794.5 1957.3 800.0 1959.0C804.9 1960.5 807.2 1960.8 813.4 1961.3C821.5 1961.9 838.8 1961.4 846.3 1961.7C851.7 1961.9 853.0 1961.9 857.1 1962.6C861.9 1963.5 868.3 1965.7 873.4 1966.8C878.2 1967.8 882.4 1968.6 886.9 1969.1C891.4 1969.6 894.9 1969.9 900.4 1970.0C906.8 1970.2 916.4 1970.3 923.5 1970.0C930.0 1969.8 936.1 1969.7 941.5 1968.6C946.5 1967.6 950.5 1965.9 955.0 1964.0C959.5 1962.2 964.2 1959.3 968.6 1957.5C972.6 1955.9 977.1 1954.2 980.3 1953.9C982.9 1953.6 984.4 1954.9 986.6 1954.8C988.9 1954.7 991.0 1953.4 993.8 1953.4C996.9 1953.3 1000.3 1954.2 1004.6 1954.8C1009.7 1955.5 1016.6 1956.7 1022.6 1957.5C1028.6 1958.4 1035.1 1959.2 1040.6 1959.9C1045.7 1960.5 1050.1 1961.1 1054.7 1961.4C1059.3 1961.7 1063.2 1961.8 1068.2 1961.7C1073.7 1961.5 1079.8 1960.9 1086.3 1960.3C1093.2 1959.6 1101.9 1958.2 1108.8 1957.5C1115.3 1956.9 1119.9 1956.6 1126.8 1956.4C1134.6 1956.1 1138.8 1956.1 1153.8 1956.0C1176.8 1955.9 1228.0 1955.9 1265.0 1955.9" stroke="#ace478" stroke-width="1.00" fill="none" stroke-linejoin="round" stroke-linecap="round"/><path d="M112.7 1730.8C118.5 1730.3 123.2 1728.5 130.0 1729.4C137.9 1730.4 148.0 1732.7 157.7 1738.1C168.7 1744.2 181.1 1755.1 192.4 1765.9C204.2 1777.3 215.3 1792.7 227.0 1805.1C238.4 1817.3 250.1 1828.2 261.7 1839.8C273.2 1851.3 284.8 1862.9 296.3 1874.4C307.8 1885.9 319.2 1898.1 330.9 1909.0C342.3 1919.7 353.6 1932.3 365.6 1939.1C376.7 1945.4 388.2 1947.7 400.0 1949.5C411.8 1951.3 423.1 1949.5 436.2 1949.9C450.3 1950.3 467.0 1950.9 482.4 1951.8C497.8 1952.7 513.2 1954.4 528.6 1955.2C544.0 1956.0 559.4 1956.8 574.8 1956.4C590.2 1956.0 603.2 1954.6 620.9 1952.9C640.9 1950.9 676.1 1946.0 690.0 1944.8C698.8 1944.1 699.3 1944.2 705.4 1944.4C712.5 1944.7 721.4 1945.3 730.8 1946.6C741.0 1948.0 753.9 1950.3 764.7 1952.6C775.2 1954.8 786.5 1958.6 795.0 1960.0C802.3 1961.2 806.7 1960.5 813.4 1961.3C820.7 1962.1 829.8 1964.0 837.3 1964.9C844.4 1965.8 849.9 1966.2 857.1 1966.8C864.9 1967.4 873.8 1968.0 882.4 1968.6C891.2 1969.2 901.6 1969.9 909.4 1970.5C916.3 1971.0 920.8 1971.6 927.4 1971.9C934.4 1972.2 940.1 1972.3 950.5 1972.3C964.0 1972.3 994.7 1973.4 1004.6 1971.9C1010.6 1971.0 1010.8 1969.3 1013.6 1967.7C1016.5 1966.1 1018.9 1961.8 1021.7 1962.0C1024.6 1962.2 1027.5 1968.7 1030.7 1969.6C1033.8 1970.4 1037.5 1968.5 1040.6 1967.7C1043.6 1966.9 1046.8 1964.8 1049.3 1964.7C1051.4 1964.6 1052.2 1966.0 1054.7 1966.3C1058.0 1966.6 1062.8 1965.9 1068.2 1966.0C1074.5 1966.1 1082.8 1966.8 1090.8 1967.2C1099.2 1967.6 1108.2 1968.2 1117.8 1968.6C1127.9 1969.0 1141.2 1969.4 1149.9 1969.4C1157.1 1969.4 1161.6 1969.0 1167.4 1968.7C1173.3 1968.5 1178.5 1968.3 1185.0 1968.1C1192.1 1967.9 1197.7 1967.9 1208.4 1967.8C1222.4 1967.7 1246.2 1967.7 1265.0 1967.6" stroke="#1f4f86" stroke-width="1.00" fill="none" stroke-linejoin="round" stroke-linecap="round"/><path d="M112.7 1917.1C123.9 1908.3 135.4 1902.4 146.2 1890.6C158.2 1877.4 169.0 1855.4 180.8 1839.8C192.1 1824.7 201.7 1807.6 215.5 1798.2C228.8 1789.1 247.7 1784.5 261.7 1783.2C274.4 1782.1 284.8 1786.1 296.3 1789.0C307.9 1791.9 319.4 1796.7 330.9 1800.5C342.5 1804.3 355.7 1807.5 365.6 1812.0C374.7 1816.1 382.8 1821.4 388.7 1825.9C393.8 1829.8 394.3 1831.4 400.0 1837.4C408.1 1846.0 422.9 1863.2 436.2 1876.7C450.2 1890.9 468.2 1909.5 482.4 1920.6C494.8 1930.2 505.3 1935.6 517.0 1941.4C528.4 1947.1 538.8 1951.4 551.7 1955.2C565.5 1959.2 582.5 1962.8 597.9 1964.5C613.2 1966.2 628.6 1965.5 644.0 1965.6C659.3 1965.7 675.3 1965.4 690.0 1964.9C704.2 1964.4 716.1 1963.8 730.8 1962.7C746.5 1961.5 767.2 1958.7 781.6 1957.7C794.1 1956.9 803.8 1956.9 813.4 1956.8C822.2 1956.7 829.8 1956.7 837.3 1957.1C844.4 1957.5 851.0 1958.6 857.1 1958.9C862.9 1959.2 866.9 1959.3 873.4 1958.9C880.9 1958.6 894.2 1956.8 900.4 1956.5C904.8 1956.3 905.9 1956.4 909.4 1956.6C913.4 1956.9 919.4 1957.7 923.5 1958.0C927.0 1958.3 929.5 1958.8 932.5 1958.5C935.5 1958.1 938.6 1957.3 941.5 1955.7C944.6 1954.0 947.1 1950.4 950.5 1948.3C954.0 1946.1 958.4 1944.7 962.2 1942.8C966.0 1940.9 969.6 1937.6 973.0 1936.8C976.2 1936.1 978.6 1937.5 982.1 1937.7C986.0 1938.0 991.1 1937.6 995.6 1938.2C1000.1 1938.7 1004.6 1939.9 1009.1 1941.0C1013.6 1942.0 1018.0 1943.5 1022.6 1944.6C1027.2 1945.7 1031.5 1946.7 1036.7 1947.5C1042.2 1948.4 1049.3 1949.5 1054.7 1950.0C1059.7 1950.3 1063.7 1950.4 1068.2 1950.1C1072.7 1949.8 1076.8 1949.2 1081.8 1948.3C1087.2 1947.3 1093.8 1945.4 1099.8 1944.1C1105.8 1942.8 1111.8 1941.3 1117.8 1940.4C1123.8 1939.6 1129.8 1939.2 1135.8 1938.8C1141.8 1938.5 1147.2 1938.5 1153.8 1938.4C1160.9 1938.3 1164.6 1938.1 1177.2 1938.1C1195.9 1938.0 1235.8 1938.1 1265.0 1938.1" stroke="#de4c6a" stroke-width="1.00" fill="none" stroke-linejoin="round" stroke-linecap="round"/><path d="M112.7 1885.9C117.7 1883.5 122.8 1878.6 127.7 1878.6C132.5 1878.6 137.3 1879.9 141.6 1885.9C147.6 1894.3 151.6 1918.6 157.7 1932.1C163.3 1944.5 168.1 1961.4 176.2 1964.5C183.8 1967.4 195.1 1959.8 203.9 1952.9C213.7 1945.2 224.1 1920.9 231.6 1918.3C237.2 1916.4 240.9 1922.8 245.5 1927.5C250.9 1933.0 255.3 1950.0 261.7 1950.6C268.3 1951.3 278.0 1930.5 284.8 1930.3C290.9 1930.1 295.9 1940.2 300.9 1946.0C306.0 1951.9 309.4 1963.0 314.8 1965.6C319.6 1967.9 323.5 1964.1 330.9 1963.3C340.5 1962.3 358.3 1960.2 370.2 1960.3C381.2 1960.4 389.4 1962.6 400.0 1963.3C411.3 1964.0 423.1 1964.7 436.2 1964.5C450.3 1964.3 462.7 1962.4 482.4 1961.7C506.7 1960.8 546.9 1960.5 574.8 1959.8C600.3 1959.1 624.0 1958.8 644.0 1957.5C661.7 1956.4 675.3 1954.0 690.0 1952.9C704.2 1951.8 716.1 1950.9 730.8 1950.9C746.5 1950.9 767.2 1952.7 781.6 1953.4C794.1 1954.0 803.8 1954.3 813.4 1955.0C822.2 1955.6 829.8 1956.7 837.3 1957.1C844.4 1957.5 849.9 1957.7 857.1 1957.5C864.9 1957.3 874.8 1956.3 882.4 1955.7C889.4 1955.2 895.9 1954.2 901.3 1954.3C906.2 1954.4 910.1 1955.4 913.9 1956.2C917.5 1956.9 919.7 1957.9 923.5 1958.9C927.8 1960.2 934.2 1963.6 938.8 1963.3C943.1 1963.0 946.4 1959.8 950.5 1957.5C954.8 1955.2 959.7 1951.9 964.0 1949.3C968.1 1946.7 972.6 1942.6 975.8 1941.9C978.3 1941.3 979.3 1942.9 982.1 1943.2C985.5 1943.6 990.6 1943.3 995.6 1943.7C1001.0 1944.2 1007.1 1944.9 1013.6 1946.0C1020.7 1947.3 1029.6 1949.7 1036.7 1951.0C1043.2 1952.2 1049.3 1953.2 1054.7 1953.6C1059.7 1954.0 1063.7 1954.0 1068.2 1953.8C1072.7 1953.6 1076.8 1953.3 1081.8 1952.4C1087.2 1951.5 1093.8 1949.4 1099.8 1948.3C1105.8 1947.2 1111.8 1946.6 1117.8 1946.0C1123.8 1945.3 1129.8 1944.9 1135.8 1944.6C1141.8 1944.3 1147.2 1944.2 1153.8 1944.1C1160.9 1944.0 1164.6 1944.0 1177.2 1944.0C1195.9 1944.0 1235.8 1944.0 1265.0 1944.0" stroke="#c478d8" stroke-width="1.00" fill="none" stroke-linejoin="round" stroke-linecap="round"/><path d="M112.7 1916.0C123.9 1910.6 135.6 1909.2 146.2 1899.8C158.4 1889.0 169.7 1865.9 180.8 1851.3C191.2 1837.6 201.3 1822.3 210.9 1814.4C218.9 1807.9 225.7 1803.8 233.9 1804.0C242.6 1804.2 252.1 1809.5 261.7 1816.7C272.8 1825.0 285.7 1844.5 296.3 1853.6C305.4 1861.4 312.6 1870.7 321.7 1869.8C331.7 1868.9 343.3 1851.0 354.0 1844.4C364.1 1838.2 376.0 1831.8 384.1 1830.5C390.7 1829.5 394.0 1831.2 400.0 1834.0C407.2 1837.4 415.4 1844.7 424.6 1851.3C434.9 1858.7 448.4 1867.8 459.3 1876.7C470.0 1885.5 479.5 1895.8 489.3 1904.4C498.7 1912.7 506.6 1922.3 517.0 1927.5C527.4 1932.7 540.8 1931.9 551.7 1935.6C562.3 1939.2 570.8 1950.3 581.7 1949.5C593.7 1948.7 607.9 1935.5 620.9 1927.5C634.1 1919.4 649.8 1902.7 660.2 1901.0C668.5 1899.6 674.0 1905.9 680.0 1910.2C686.2 1914.6 690.2 1921.4 696.9 1927.2C704.2 1933.5 713.6 1945.4 722.3 1946.6C730.6 1947.8 739.4 1940.7 747.7 1935.6C756.4 1930.2 764.9 1915.8 773.1 1914.5C780.7 1913.3 788.5 1920.6 795.2 1925.5C802.0 1930.5 807.1 1939.5 813.4 1944.6C819.4 1949.4 825.0 1956.1 831.9 1955.7C839.5 1955.2 850.0 1944.9 857.1 1939.1C863.7 1933.8 866.9 1927.1 873.4 1922.5C880.1 1917.7 890.5 1911.4 896.8 1910.9C902.0 1910.6 905.9 1913.7 909.4 1916.9C913.2 1920.4 915.9 1927.8 918.4 1931.7C920.5 1934.9 921.6 1935.3 923.5 1939.1C926.0 1944.3 929.0 1957.2 932.5 1962.2C935.2 1966.2 938.4 1968.1 941.5 1969.1C944.4 1970.1 947.4 1969.6 950.5 1968.6C954.0 1967.5 957.9 1964.9 961.3 1962.2C964.9 1959.4 968.4 1954.7 971.2 1952.0C973.7 1949.8 975.5 1947.4 977.6 1947.0C979.4 1946.6 980.5 1948.4 983.0 1948.8C986.1 1949.2 990.8 1948.5 995.6 1948.8C1000.9 1949.2 1007.1 1950.0 1013.6 1951.1C1020.7 1952.3 1029.6 1954.6 1036.7 1955.7C1043.2 1956.6 1049.3 1957.0 1054.7 1957.3C1059.7 1957.6 1063.2 1957.7 1068.2 1957.5C1073.7 1957.3 1079.8 1956.8 1086.3 1956.1C1093.2 1955.3 1101.9 1953.9 1108.8 1952.9C1115.3 1952.0 1119.9 1951.1 1126.8 1950.6C1134.6 1950.0 1145.2 1950.2 1153.8 1950.1C1162.0 1950.0 1164.6 1950.0 1177.2 1950.0C1195.9 1950.0 1235.8 1950.0 1265.0 1950.0" stroke="#f8b450" stroke-width="1.00" fill="none" stroke-linejoin="round" stroke-linecap="round"/><path d="M112.7 1723.8C117.7 1720.1 122.4 1715.0 127.7 1712.7C132.8 1710.5 137.7 1708.9 143.9 1710.0C151.2 1711.3 160.8 1716.5 169.3 1722.0C178.5 1727.9 186.6 1739.9 197.0 1745.1C207.4 1750.3 220.6 1753.5 231.6 1753.2C242.2 1752.9 252.7 1748.1 261.7 1743.9C270.3 1739.9 276.9 1732.3 284.8 1728.9C292.3 1725.7 300.2 1723.4 307.9 1723.8C315.6 1724.2 323.6 1726.0 330.9 1731.2C339.1 1737.0 346.6 1747.7 354.0 1758.9C362.1 1771.2 370.9 1789.6 377.1 1802.8C382.6 1814.7 384.5 1823.0 390.0 1835.1C396.2 1848.8 404.2 1868.9 413.1 1881.3C421.3 1892.7 431.5 1906.1 440.8 1907.9C449.3 1909.6 458.1 1903.1 466.2 1895.2C475.9 1885.8 484.1 1864.9 493.9 1851.3C503.4 1838.0 513.8 1816.3 523.9 1814.4C533.1 1812.7 542.8 1826.4 551.7 1835.1C561.3 1844.5 570.0 1860.9 579.4 1869.8C587.8 1877.7 595.4 1885.8 604.8 1887.1C614.5 1888.4 626.7 1880.8 637.1 1876.7C647.4 1872.7 659.7 1866.9 667.1 1862.9C673.0 1859.7 675.1 1857.4 680.0 1854.4C685.4 1851.1 692.8 1843.7 698.6 1843.9C704.1 1844.0 709.0 1848.7 713.9 1854.4C719.8 1861.3 725.2 1874.2 730.8 1884.8C736.5 1895.6 741.8 1908.8 747.7 1918.7C753.1 1927.8 757.7 1936.7 764.7 1942.4C771.4 1947.9 781.6 1953.5 788.4 1952.6C794.9 1951.7 800.7 1942.5 805.0 1938.0C808.7 1934.1 810.3 1929.7 813.4 1927.1C816.3 1924.7 819.2 1922.3 822.9 1922.5C827.0 1922.7 832.9 1927.2 837.3 1929.9C841.5 1932.4 845.2 1938.0 848.6 1938.2C851.7 1938.3 853.8 1934.6 857.1 1931.7C861.0 1928.4 866.6 1919.0 870.6 1918.8C874.3 1918.5 877.3 1924.6 880.6 1928.0C883.9 1931.5 887.1 1939.3 890.5 1939.6C893.7 1939.8 897.6 1932.7 900.4 1929.9C902.8 1927.4 904.2 1923.0 906.3 1923.4C908.7 1923.8 911.3 1930.3 913.9 1934.5C916.8 1939.1 920.3 1949.5 923.0 1950.2C925.2 1950.8 926.8 1945.2 928.9 1942.8C930.9 1940.4 933.1 1935.7 935.2 1935.9C937.3 1936.1 939.3 1941.1 941.5 1944.6C944.0 1948.6 946.3 1958.6 949.1 1958.9C952.0 1959.3 955.7 1947.3 958.6 1947.0C961.2 1946.6 963.1 1952.0 965.8 1954.8C968.8 1957.8 972.2 1963.5 975.8 1964.5C979.1 1965.5 982.7 1962.5 986.6 1961.7C990.7 1960.8 995.6 1959.6 1000.1 1959.4C1004.6 1959.3 1008.2 1960.1 1013.6 1960.8C1020.0 1961.5 1029.6 1963.1 1036.7 1963.8C1043.2 1964.5 1048.7 1964.9 1054.7 1965.1C1060.7 1965.2 1065.8 1965.1 1072.7 1964.9C1080.6 1964.7 1090.8 1964.0 1099.8 1963.5C1108.8 1963.0 1117.8 1962.2 1126.8 1961.9C1135.8 1961.7 1138.8 1961.8 1153.8 1961.7C1176.8 1961.7 1228.0 1961.8 1265.0 1961.8" stroke="#f88a5a" stroke-width="1.00" fill="none" stroke-linejoin="round" stroke-linecap="round"/><path d="M112.7 1880.9C120.8 1895.7 129.0 1924.7 137.0 1925.2C144.7 1925.7 152.5 1886.3 160.0 1887.1C167.9 1887.9 175.6 1933.6 183.1 1934.4C190.2 1935.2 197.1 1896.7 203.9 1897.5C211.0 1898.3 217.9 1942.7 224.7 1943.7C231.0 1944.7 237.4 1908.6 243.2 1910.2C249.8 1912.0 255.4 1962.1 261.7 1964.5C267.0 1966.5 272.4 1939.5 277.8 1937.9C282.4 1936.5 284.5 1947.6 291.7 1949.5C300.7 1951.9 318.5 1949.7 330.9 1947.1C343.1 1944.6 355.9 1941.8 365.6 1934.4C375.7 1926.7 381.8 1910.8 390.0 1901.0C397.7 1891.8 404.4 1881.8 413.1 1876.7C421.4 1871.8 431.3 1869.9 440.8 1870.2C450.5 1870.5 460.6 1873.8 470.8 1879.0C482.1 1884.7 493.8 1897.0 505.5 1904.4C516.9 1911.6 530.0 1918.8 540.1 1922.9C548.8 1926.4 554.4 1929.4 563.2 1928.7C573.3 1927.9 586.6 1922.1 597.9 1916.0C609.7 1909.6 620.9 1898.4 632.5 1890.6C643.9 1883.0 658.9 1874.6 667.1 1869.8C673.2 1866.3 674.7 1864.8 680.0 1862.8C686.0 1860.5 694.9 1856.9 702.0 1856.9C709.0 1856.9 715.3 1858.8 722.3 1862.8C730.4 1867.4 739.4 1876.8 747.7 1884.8C756.3 1893.1 764.3 1905.0 773.1 1911.9C781.3 1918.3 791.4 1923.9 798.5 1925.5C804.4 1926.8 809.1 1924.4 813.4 1923.4C817.4 1922.5 819.8 1920.7 823.8 1919.7C828.2 1918.6 833.9 1917.3 839.1 1917.4C844.4 1917.5 849.8 1918.4 855.3 1920.6C861.3 1923.0 867.0 1928.2 873.4 1931.7C879.9 1935.4 888.6 1941.7 894.1 1942.3C898.6 1942.8 901.7 1940.8 904.9 1938.2C908.4 1935.3 911.0 1930.5 913.9 1925.2C917.2 1919.3 920.2 1909.9 923.5 1904.0C926.4 1898.8 929.1 1894.6 932.5 1891.1C935.6 1887.8 939.2 1883.6 942.9 1883.4C946.7 1883.2 950.9 1887.0 955.0 1890.1C959.5 1893.6 964.7 1899.8 968.6 1904.0C972.1 1907.8 974.6 1910.5 977.6 1914.2C980.6 1917.9 983.6 1922.0 986.6 1926.2C989.6 1930.3 992.6 1934.5 995.6 1939.1C998.7 1943.8 1001.5 1949.8 1004.6 1953.9C1007.5 1957.6 1010.7 1961.1 1013.6 1963.1C1016.1 1964.8 1018.0 1965.6 1020.8 1965.7C1023.9 1965.9 1028.9 1964.3 1031.6 1963.5C1033.9 1962.9 1034.6 1962.3 1036.7 1961.7C1039.1 1960.9 1043.0 1960.7 1045.7 1959.3C1048.4 1958.0 1050.6 1956.0 1052.9 1953.8C1055.4 1951.5 1057.5 1946.3 1060.1 1945.7C1062.6 1945.0 1065.4 1948.6 1068.2 1949.2C1071.1 1949.8 1073.8 1948.9 1077.2 1949.2C1081.2 1949.5 1085.8 1950.1 1090.8 1951.0C1096.2 1952.0 1102.8 1954.2 1108.8 1955.2C1114.8 1956.2 1120.3 1956.6 1126.8 1957.0C1133.9 1957.5 1142.9 1958.1 1149.9 1957.9C1156.3 1957.8 1161.6 1956.9 1167.4 1956.3C1173.3 1955.6 1178.5 1954.8 1185.0 1953.9C1192.1 1953.1 1201.1 1951.8 1208.4 1951.2C1215.4 1950.6 1219.8 1950.3 1228.0 1950.1C1237.9 1949.9 1252.7 1950.0 1265.0 1950.0" stroke="#c8891e" stroke-width="1.00" fill="none" stroke-linejoin="round" stroke-linecap="round"/><path d="M112.7 1870.9C120.0 1862.1 126.7 1850.5 134.6 1844.4C141.8 1838.9 148.7 1835.7 157.7 1834.7C167.7 1833.6 179.6 1837.3 192.4 1839.8C206.4 1842.5 225.7 1849.6 238.6 1850.8C249.6 1851.8 257.7 1847.6 266.3 1848.5C274.6 1849.4 282.6 1851.4 289.4 1855.9C296.5 1860.6 301.2 1869.6 307.9 1876.7C315.0 1884.2 324.7 1895.2 330.9 1899.8C335.6 1903.3 337.7 1905.9 342.5 1904.9C348.6 1903.7 358.0 1892.3 365.6 1888.3C372.6 1884.6 379.3 1881.9 386.4 1881.3C393.6 1880.7 399.7 1887.2 408.5 1884.8C419.4 1881.8 435.2 1859.7 447.7 1859.4C459.8 1859.1 471.1 1880.9 482.4 1881.3C493.4 1881.7 504.0 1862.4 514.7 1862.9C525.5 1863.4 536.4 1884.2 547.0 1884.8C557.2 1885.4 566.7 1867.0 577.1 1867.9C588.2 1868.8 601.3 1892.1 611.7 1892.9C621.1 1893.6 628.5 1876.0 637.1 1876.7C646.2 1877.5 655.5 1898.5 664.8 1899.3C673.8 1900.1 682.8 1881.9 691.9 1882.8C701.4 1883.7 711.6 1905.7 720.6 1906.5C729.0 1907.2 736.4 1889.6 744.4 1890.3C752.8 1891.1 761.6 1912.4 769.8 1912.8C777.7 1913.1 785.3 1893.9 792.6 1894.1C799.8 1894.3 810.1 1910.5 813.4 1913.2C815.0 1914.6 814.5 1914.8 815.7 1914.6C817.4 1914.3 820.6 1912.0 823.8 1909.5C827.6 1906.5 833.3 1897.6 837.3 1897.1C840.7 1896.7 843.5 1900.8 846.3 1904.0C849.5 1907.7 852.8 1915.8 855.3 1918.8C857.2 1920.9 858.3 1922.3 860.3 1922.0C862.7 1921.7 865.9 1917.5 868.8 1915.1C871.8 1912.7 874.9 1907.7 877.9 1907.7C880.9 1907.7 884.0 1911.7 886.9 1915.1C890.1 1918.9 893.4 1927.0 895.9 1929.9C897.7 1932.0 898.5 1933.3 900.4 1933.1C902.8 1932.8 906.6 1928.8 909.4 1926.2C912.2 1923.5 914.7 1917.9 917.1 1917.4C919.2 1917.0 921.1 1919.4 923.0 1921.6C925.1 1924.1 926.8 1930.0 928.9 1932.6C930.6 1934.9 932.3 1937.6 934.3 1937.2C936.5 1936.9 938.9 1932.0 941.5 1928.9C944.4 1925.6 948.0 1918.1 950.9 1917.8C953.7 1917.6 956.2 1923.6 958.6 1926.2C960.9 1928.6 962.8 1932.9 964.9 1932.8C967.0 1932.7 969.0 1928.2 971.2 1925.2C973.7 1922.0 976.6 1914.4 978.9 1914.2C981.0 1914.0 982.7 1919.3 984.8 1922.5C987.0 1926.0 989.7 1934.0 992.0 1934.5C993.9 1934.9 995.6 1930.1 997.4 1928.0C999.1 1925.9 1000.6 1921.9 1002.4 1922.0C1004.2 1922.2 1006.3 1926.4 1008.2 1929.9C1010.4 1934.0 1012.5 1945.1 1014.5 1946.0C1016.1 1946.7 1017.6 1941.8 1019.0 1940.0C1020.4 1938.3 1021.7 1935.0 1023.1 1935.4C1024.7 1935.9 1026.3 1942.1 1028.0 1945.6C1029.8 1949.1 1031.4 1956.4 1033.5 1956.6C1035.5 1956.9 1038.1 1948.0 1040.3 1947.8C1042.2 1947.6 1044.0 1951.7 1045.7 1953.8C1047.3 1955.9 1048.6 1958.7 1050.2 1960.3C1051.6 1961.7 1052.7 1963.0 1054.7 1963.2C1057.0 1963.5 1060.3 1961.8 1063.7 1961.2C1067.5 1960.5 1071.9 1959.4 1076.3 1959.3C1080.9 1959.3 1085.6 1960.6 1090.8 1961.2C1096.3 1961.8 1102.8 1962.5 1108.8 1963.1C1114.8 1963.7 1120.3 1964.3 1126.8 1964.7C1133.9 1965.1 1142.9 1965.3 1149.9 1965.3C1156.3 1965.3 1161.6 1964.9 1167.4 1964.6C1173.3 1964.3 1178.5 1964.0 1185.0 1963.7C1192.1 1963.3 1201.1 1962.6 1208.4 1962.3C1215.4 1962.0 1219.8 1962.0 1228.0 1961.9C1237.9 1961.8 1252.7 1961.9 1265.0 1961.8" stroke="#d4561c" stroke-width="1.00" fill="none" stroke-linejoin="round" stroke-linecap="round"/><path d="M112.7 1726.6C120.0 1727.0 126.1 1726.1 134.6 1727.7C144.5 1729.5 157.7 1734.8 169.3 1738.1C180.8 1741.4 192.4 1743.6 203.9 1747.4C215.5 1751.3 227.2 1755.5 238.6 1761.2C250.3 1767.0 263.5 1773.4 273.2 1782.0C282.7 1790.4 288.8 1800.8 296.3 1812.0C304.2 1823.8 311.4 1839.9 319.4 1851.3C326.8 1862.0 334.6 1871.2 342.5 1879.0C350.0 1886.4 357.5 1892.6 365.6 1897.5C373.4 1902.2 380.7 1904.4 390.0 1907.9C400.2 1911.7 413.1 1919.9 424.6 1919.4C436.2 1918.9 448.1 1911.6 459.3 1904.4C471.2 1896.8 481.5 1884.6 493.9 1874.4C506.8 1863.7 523.3 1843.6 535.5 1841.6C545.9 1839.9 553.8 1847.7 563.2 1855.9C574.5 1865.7 586.2 1885.8 597.9 1899.8C609.3 1913.5 621.0 1930.2 632.5 1939.1C642.5 1946.9 652.7 1951.7 662.5 1952.9C671.8 1954.0 681.3 1949.8 690.0 1947.1C698.4 1944.5 705.0 1941.4 713.9 1937.3C723.9 1932.7 736.4 1925.5 747.7 1920.4C758.9 1915.3 770.4 1910.1 781.6 1906.8C792.4 1903.6 806.3 1902.2 813.7 1900.5C819.1 1899.2 821.2 1898.6 824.7 1897.4C828.1 1896.2 831.3 1895.1 834.6 1893.3C837.9 1891.5 840.9 1888.9 844.5 1886.6C848.3 1884.1 853.6 1881.3 857.1 1879.1C860.0 1877.3 861.7 1875.7 864.3 1874.4C867.0 1873.1 870.4 1871.3 873.2 1871.3C875.9 1871.4 878.5 1872.7 880.8 1874.4C883.3 1876.1 885.6 1878.9 887.4 1881.8C889.4 1884.9 890.6 1888.8 892.2 1892.7C893.9 1896.9 895.0 1900.2 897.3 1906.2C900.3 1914.0 905.6 1929.5 909.4 1937.2C912.5 1943.5 915.2 1947.9 918.4 1951.1C921.2 1953.9 924.3 1954.7 927.4 1956.2C930.5 1957.7 932.9 1959.1 937.0 1960.3C941.8 1961.9 948.7 1963.6 955.0 1964.5C961.6 1965.5 969.6 1966.3 975.8 1965.9C981.5 1965.4 986.3 1964.0 991.1 1962.2C995.9 1960.3 1000.1 1956.7 1004.6 1954.8C1009.1 1952.9 1013.6 1951.5 1018.1 1950.6C1022.6 1949.7 1028.4 1949.6 1031.6 1949.3C1034.0 1949.0 1034.6 1949.4 1036.7 1948.8C1039.2 1948.0 1042.5 1946.6 1045.7 1944.6C1049.2 1942.4 1053.8 1936.6 1057.0 1935.8C1059.6 1935.2 1061.2 1937.7 1063.7 1938.1C1066.4 1938.6 1069.3 1938.2 1072.7 1938.3C1076.7 1938.5 1081.8 1938.4 1086.3 1939.0C1090.8 1939.7 1095.3 1941.0 1099.8 1942.3C1104.3 1943.5 1108.8 1945.3 1113.3 1946.4C1117.8 1947.6 1122.3 1948.5 1126.8 1949.2C1131.3 1949.9 1135.9 1950.4 1140.4 1950.6C1144.8 1950.7 1149.3 1950.5 1153.8 1950.1C1158.3 1949.7 1162.5 1949.1 1167.4 1948.2C1172.8 1947.1 1178.5 1945.1 1185.0 1943.8C1192.1 1942.4 1201.1 1941.1 1208.4 1940.1C1215.4 1939.2 1219.8 1938.5 1228.0 1938.2C1237.9 1937.7 1252.7 1938.1 1265.0 1938.1" stroke="#a8203e" stroke-width="1.00" fill="none" stroke-linejoin="round" stroke-linecap="round"/><path d="M112.7 1833.3C127.7 1827.0 142.4 1819.3 157.7 1814.4C172.8 1809.6 191.3 1805.8 203.9 1804.0C214.3 1802.5 220.2 1801.0 229.3 1802.8C239.3 1804.8 252.3 1811.1 261.7 1816.7C270.6 1822.0 277.5 1826.5 284.8 1835.1C293.1 1844.9 300.2 1861.3 307.9 1874.4C315.6 1887.5 322.6 1903.9 330.9 1913.7C338.1 1922.3 347.8 1928.5 354.0 1932.1C358.8 1934.9 361.0 1936.1 365.6 1936.0C371.0 1935.9 379.2 1932.6 385.0 1930.0C390.6 1927.5 393.3 1925.6 400.0 1920.6C409.0 1913.9 422.9 1900.7 436.2 1890.6C450.2 1879.9 465.4 1867.4 482.4 1858.2C499.9 1848.8 524.0 1835.3 540.1 1835.1C554.0 1834.9 563.5 1843.9 574.8 1851.3C586.7 1859.1 599.7 1870.3 609.4 1881.3C618.8 1892.0 623.1 1905.0 632.5 1916.0C642.2 1927.4 656.8 1941.6 667.1 1948.3C675.5 1953.8 683.3 1955.2 690.0 1956.4C695.8 1957.4 698.6 1957.0 705.4 1956.0C714.0 1954.7 728.1 1951.4 739.3 1947.5C750.7 1943.5 763.1 1938.4 773.1 1932.3C782.7 1926.4 791.4 1917.6 798.5 1911.9C804.6 1907.0 809.8 1903.3 813.7 1899.5C817.1 1896.1 818.5 1893.3 821.3 1890.0C824.3 1886.5 827.9 1882.4 831.3 1879.1C834.5 1876.0 837.8 1873.2 841.2 1870.7C844.4 1868.2 848.2 1865.8 851.1 1864.2C853.6 1862.9 855.4 1862.0 857.7 1861.3C860.0 1860.6 862.3 1860.1 865.0 1860.2C867.8 1860.2 871.1 1860.5 874.2 1861.5C877.5 1862.6 881.3 1864.7 884.2 1866.6C886.8 1868.3 888.6 1870.2 890.7 1872.3C893.0 1874.5 894.9 1876.8 897.3 1879.5C899.9 1882.4 903.2 1885.8 905.9 1889.5C908.7 1893.4 911.2 1897.3 913.9 1902.2C917.0 1907.5 920.3 1915.0 923.5 1920.6C926.5 1926.0 929.4 1931.0 932.5 1935.4C935.4 1939.6 937.8 1943.1 941.5 1946.5C945.3 1949.9 950.4 1953.2 955.0 1955.7C959.4 1958.1 964.6 1960.0 968.6 1961.3C972.0 1962.4 974.1 1963.2 977.6 1963.3C981.5 1963.4 986.6 1962.6 991.1 1961.3C995.7 1959.8 1000.1 1956.5 1004.6 1954.8C1009.1 1953.1 1013.6 1951.8 1018.1 1951.1C1022.6 1950.5 1028.4 1950.7 1031.6 1950.9C1034.0 1951.1 1034.6 1951.9 1036.7 1951.9C1039.1 1952.0 1042.3 1952.4 1045.7 1951.0C1049.8 1949.3 1055.8 1941.9 1059.7 1941.1C1062.7 1940.4 1064.5 1943.3 1067.3 1943.7C1070.3 1944.1 1073.2 1943.1 1077.2 1943.5C1082.1 1943.9 1089.3 1945.2 1095.3 1946.4C1101.3 1947.7 1107.3 1949.8 1113.3 1951.0C1119.3 1952.2 1124.8 1953.1 1131.3 1953.6C1138.3 1954.2 1147.5 1954.3 1153.8 1954.0C1159.2 1953.7 1162.5 1952.9 1167.4 1952.1C1172.8 1951.2 1178.5 1949.9 1185.0 1948.9C1192.1 1947.7 1201.1 1946.4 1208.4 1945.6C1215.4 1944.9 1219.8 1944.4 1228.0 1944.1C1237.9 1943.8 1252.7 1944.0 1265.0 1944.0" stroke="#8430a0" stroke-width="1.00" fill="none" stroke-linejoin="round" stroke-linecap="round"/>
<path d="M103.5 1661.8V1972.5H1265.2M287.3 1972.5V1960.5M482.9 1972.5V1960.5M678.5 1972.5V1960.5M874.0 1972.5V1960.5M1069.6 1972.5V1960.5M1265.2 1972.5V1960.5M103.5 1972.2H115.5M103.5 1848.3H115.5M103.5 1724.4H115.5" stroke="#333" stroke-width="1.05" fill="none"/>
<text class="t" x="287.3" y="2019.6" text-anchor="middle">-60</text>
<text class="t" x="482.9" y="2019.6" text-anchor="middle">-50</text>
<text class="t" x="678.5" y="2019.6" text-anchor="middle">-40</text>
<text class="t" x="874.0" y="2019.6" text-anchor="middle">-30</text>
<text class="t" x="1069.6" y="2019.6" text-anchor="middle">-20</text>
<text class="t" x="1265.2" y="2019.6" text-anchor="middle">-10</text>
<text class="t" x="93.5" y="1985.8" text-anchor="end">0</text>
<text class="t" x="93.5" y="1861.9" text-anchor="end">10</text>
<text class="t" x="93.5" y="1738.0" text-anchor="end">20</text>
<text class="pl" x="18.8" y="1589.4">D</text>
<text class="m" x="639.9" y="2064.3">c</text><text class="m" x="657.4" y="2064.3">t</text><path d="M675.0 2073.1L689.1 2033.2" stroke="#262626" stroke-width="2.1" stroke-linecap="butt"/><text class="m" style="font-size:45px" x="694.5" y="2064.3">H</text>
<g transform="translate(32.5 1817.2) rotate(-90)"><text class="m" style="font-size:44px" x="-28.5" y="0">z</text><path d="M-7.8 9.0L6.5 -31.0" stroke="#262626" stroke-width="2.1" stroke-linecap="butt"/><text class="m" style="font-size:42px" x="11.7" y="0">δ</text></g>
</svg></body></html>
